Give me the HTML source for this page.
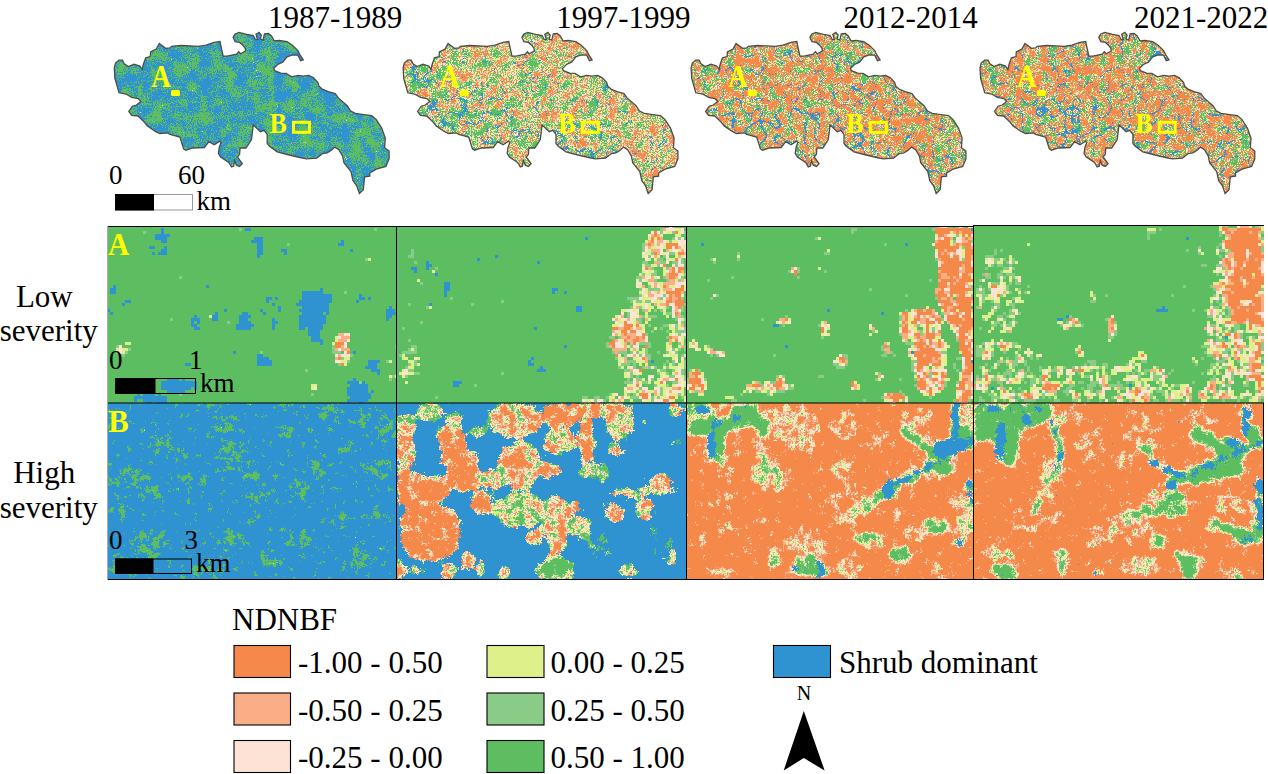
<!DOCTYPE html>
<html><head><meta charset="utf-8"><style>
html,body{margin:0;padding:0;background:#fff;}
body{width:1268px;height:774px;overflow:hidden;position:relative;}
svg{position:absolute;left:0;top:0;}
text{font-family:"Liberation Serif",serif;}
</style></head><body>
<svg width="1268" height="774" viewBox="0 0 1268 774">
<defs>
<filter id="fA1" filterUnits="userSpaceOnUse" x="96" y="214" width="313" height="201" color-interpolation-filters="sRGB">
<feGaussianBlur in="SourceGraphic" stdDeviation="2.2" result="src"/>
<feTurbulence type="fractalNoise" baseFrequency="0.12" numOctaves="3" seed="21" result="t1"/>
<feColorMatrix in="t1" type="matrix" values="1 0 0 0 0 0 1 0 0 0 0 0 0 0 0 0 0 0 0 1" result="t1a"/>
<feTurbulence type="fractalNoise" baseFrequency="0.5" numOctaves="1" seed="28" result="t2"/>
<feColorMatrix in="t2" type="matrix" values="1 0 0 0 0 0 1 0 0 0 0 0 0 0 0 0 0 0 0 1" result="t2a"/>
<feComposite in="t1a" in2="t2a" operator="arithmetic" k1="0" k2="1.2" k3="0.6" k4="-0.4000" result="nz"/>
<feColorMatrix in="nz" type="matrix" values="0.75 0 0 0 0.1250 0 1.7 0 0 -0.3500 0 0 0 0 0 0 0 0 0 1" result="nzs"/>
<feComposite in="src" in2="nzs" operator="arithmetic" k1="0" k2="1" k3="1" k4="-0.5" result="v"/>
<feFlood flood-color="#fff" x="96" y="214" width="1" height="1" result="dot"/><feComposite in="dot" in2="dot" operator="over" x="96" y="214" width="3" height="3" result="tile"/><feTile in="tile" result="grid"/><feComposite in="v" in2="grid" operator="in" result="vs"/><feMorphology in="vs" operator="dilate" radius="1" result="vp"/><feColorMatrix in="vp" type="matrix" values="1 0 0 0 0 1 0 0 0 0 1 0 0 0 0 0 0 0 0 1" result="vr"/>
<feComponentTransfer in="vr" result="c"><feFuncR type="discrete" tableValues="0.9608 0.9608 0.9608 0.9608 0.9608 0.9608 0.9608 0.9608 0.9608 0.9608 0.9608 0.9608 0.9608 0.9608 0.9765 0.9765 0.9765 0.9922 0.9922 0.9922 0.8667 0.8667 0.8667 0.5412 0.5412 0.5412 0.3686 0.3686 0.3686 0.3686 0.3686 0.3686 0.3686 0.3686 0.3686 0.3686 0.3686 0.3686 0.3686 0.3686"/><feFuncG type="discrete" tableValues="0.5373 0.5373 0.5373 0.5373 0.5373 0.5373 0.5373 0.5373 0.5373 0.5373 0.5373 0.5373 0.5373 0.5373 0.6824 0.6824 0.6824 0.8863 0.8863 0.8863 0.9412 0.9412 0.9412 0.7961 0.7961 0.7961 0.7412 0.7412 0.7412 0.7412 0.7412 0.7412 0.7412 0.7412 0.7412 0.7412 0.7412 0.7412 0.7412 0.7412"/><feFuncB type="discrete" tableValues="0.2941 0.2941 0.2941 0.2941 0.2941 0.2941 0.2941 0.2941 0.2941 0.2941 0.2941 0.2941 0.2941 0.2941 0.5294 0.5294 0.5294 0.8392 0.8392 0.8392 0.5412 0.5412 0.5412 0.5333 0.5333 0.5333 0.3804 0.3804 0.3804 0.3804 0.3804 0.3804 0.3804 0.3804 0.3804 0.3804 0.3804 0.3804 0.3804 0.3804"/></feComponentTransfer>
<feColorMatrix in="vp" type="matrix" values="0 0 0 0 0.1843 0 0 0 0 0.5765 0 0 0 0 0.8235 0 1 0 0 0" result="bm"/>
<feComponentTransfer in="bm" result="bl"><feFuncA type="discrete" tableValues="0 0 0 0 0 0 0 0 0 0 0 0 0 0 0 0 0 0 0 0 0 0 1 1 1 1 1 1 1 1 1 1 1 1 1 1 1 1 1 1"/></feComponentTransfer>
<feMerge><feMergeNode in="c"/><feMergeNode in="bl"/></feMerge>
</filter><clipPath id="cA1"><rect x="108" y="226" width="289" height="177"/></clipPath><filter id="fA2" filterUnits="userSpaceOnUse" x="385" y="214" width="313" height="201" color-interpolation-filters="sRGB">
<feGaussianBlur in="SourceGraphic" stdDeviation="2.2" result="src"/>
<feTurbulence type="fractalNoise" baseFrequency="0.12" numOctaves="3" seed="22" result="t1"/>
<feColorMatrix in="t1" type="matrix" values="1 0 0 0 0 0 1 0 0 0 0 0 0 0 0 0 0 0 0 1" result="t1a"/>
<feTurbulence type="fractalNoise" baseFrequency="0.5" numOctaves="1" seed="29" result="t2"/>
<feColorMatrix in="t2" type="matrix" values="1 0 0 0 0 0 1 0 0 0 0 0 0 0 0 0 0 0 0 1" result="t2a"/>
<feComposite in="t1a" in2="t2a" operator="arithmetic" k1="0" k2="1.2" k3="0.6" k4="-0.4000" result="nz"/>
<feColorMatrix in="nz" type="matrix" values="0.75 0 0 0 0.1250 0 1.1 0 0 -0.0500 0 0 0 0 0 0 0 0 0 1" result="nzs"/>
<feComposite in="src" in2="nzs" operator="arithmetic" k1="0" k2="1" k3="1" k4="-0.5" result="v"/>
<feFlood flood-color="#fff" x="385" y="214" width="1" height="1" result="dot"/><feComposite in="dot" in2="dot" operator="over" x="385" y="214" width="3" height="3" result="tile"/><feTile in="tile" result="grid"/><feComposite in="v" in2="grid" operator="in" result="vs"/><feMorphology in="vs" operator="dilate" radius="1" result="vp"/><feColorMatrix in="vp" type="matrix" values="1 0 0 0 0 1 0 0 0 0 1 0 0 0 0 0 0 0 0 1" result="vr"/>
<feComponentTransfer in="vr" result="c"><feFuncR type="discrete" tableValues="0.9608 0.9608 0.9608 0.9608 0.9608 0.9608 0.9608 0.9608 0.9608 0.9608 0.9608 0.9608 0.9608 0.9608 0.9765 0.9765 0.9765 0.9922 0.9922 0.9922 0.8667 0.8667 0.8667 0.5412 0.5412 0.5412 0.3686 0.3686 0.3686 0.3686 0.3686 0.3686 0.3686 0.3686 0.3686 0.3686 0.3686 0.3686 0.3686 0.3686"/><feFuncG type="discrete" tableValues="0.5373 0.5373 0.5373 0.5373 0.5373 0.5373 0.5373 0.5373 0.5373 0.5373 0.5373 0.5373 0.5373 0.5373 0.6824 0.6824 0.6824 0.8863 0.8863 0.8863 0.9412 0.9412 0.9412 0.7961 0.7961 0.7961 0.7412 0.7412 0.7412 0.7412 0.7412 0.7412 0.7412 0.7412 0.7412 0.7412 0.7412 0.7412 0.7412 0.7412"/><feFuncB type="discrete" tableValues="0.2941 0.2941 0.2941 0.2941 0.2941 0.2941 0.2941 0.2941 0.2941 0.2941 0.2941 0.2941 0.2941 0.2941 0.5294 0.5294 0.5294 0.8392 0.8392 0.8392 0.5412 0.5412 0.5412 0.5333 0.5333 0.5333 0.3804 0.3804 0.3804 0.3804 0.3804 0.3804 0.3804 0.3804 0.3804 0.3804 0.3804 0.3804 0.3804 0.3804"/></feComponentTransfer>
<feColorMatrix in="vp" type="matrix" values="0 0 0 0 0.1843 0 0 0 0 0.5765 0 0 0 0 0.8235 0 1 0 0 0" result="bm"/>
<feComponentTransfer in="bm" result="bl"><feFuncA type="discrete" tableValues="0 0 0 0 0 0 0 0 0 0 0 0 0 0 0 0 0 0 0 0 1 1 1 1 1 1 1 1 1 1 1 1 1 1 1 1 1 1 1 1"/></feComponentTransfer>
<feMerge><feMergeNode in="c"/><feMergeNode in="bl"/></feMerge>
</filter><clipPath id="cA2"><rect x="397" y="226" width="289" height="177"/></clipPath><filter id="fA3" filterUnits="userSpaceOnUse" x="675" y="214" width="311" height="201" color-interpolation-filters="sRGB">
<feGaussianBlur in="SourceGraphic" stdDeviation="2.2" result="src"/>
<feTurbulence type="fractalNoise" baseFrequency="0.12" numOctaves="3" seed="23" result="t1"/>
<feColorMatrix in="t1" type="matrix" values="1 0 0 0 0 0 1 0 0 0 0 0 0 0 0 0 0 0 0 1" result="t1a"/>
<feTurbulence type="fractalNoise" baseFrequency="0.5" numOctaves="1" seed="30" result="t2"/>
<feColorMatrix in="t2" type="matrix" values="1 0 0 0 0 0 1 0 0 0 0 0 0 0 0 0 0 0 0 1" result="t2a"/>
<feComposite in="t1a" in2="t2a" operator="arithmetic" k1="0" k2="1.2" k3="0.6" k4="-0.4000" result="nz"/>
<feColorMatrix in="nz" type="matrix" values="0.75 0 0 0 0.1250 0 1.1 0 0 -0.0500 0 0 0 0 0 0 0 0 0 1" result="nzs"/>
<feComposite in="src" in2="nzs" operator="arithmetic" k1="0" k2="1" k3="1" k4="-0.5" result="v"/>
<feFlood flood-color="#fff" x="675" y="214" width="1" height="1" result="dot"/><feComposite in="dot" in2="dot" operator="over" x="675" y="214" width="3" height="3" result="tile"/><feTile in="tile" result="grid"/><feComposite in="v" in2="grid" operator="in" result="vs"/><feMorphology in="vs" operator="dilate" radius="1" result="vp"/><feColorMatrix in="vp" type="matrix" values="1 0 0 0 0 1 0 0 0 0 1 0 0 0 0 0 0 0 0 1" result="vr"/>
<feComponentTransfer in="vr" result="c"><feFuncR type="discrete" tableValues="0.9608 0.9608 0.9608 0.9608 0.9608 0.9608 0.9608 0.9608 0.9608 0.9608 0.9608 0.9608 0.9608 0.9608 0.9765 0.9765 0.9765 0.9922 0.9922 0.9922 0.8667 0.8667 0.8667 0.5412 0.5412 0.5412 0.3686 0.3686 0.3686 0.3686 0.3686 0.3686 0.3686 0.3686 0.3686 0.3686 0.3686 0.3686 0.3686 0.3686"/><feFuncG type="discrete" tableValues="0.5373 0.5373 0.5373 0.5373 0.5373 0.5373 0.5373 0.5373 0.5373 0.5373 0.5373 0.5373 0.5373 0.5373 0.6824 0.6824 0.6824 0.8863 0.8863 0.8863 0.9412 0.9412 0.9412 0.7961 0.7961 0.7961 0.7412 0.7412 0.7412 0.7412 0.7412 0.7412 0.7412 0.7412 0.7412 0.7412 0.7412 0.7412 0.7412 0.7412"/><feFuncB type="discrete" tableValues="0.2941 0.2941 0.2941 0.2941 0.2941 0.2941 0.2941 0.2941 0.2941 0.2941 0.2941 0.2941 0.2941 0.2941 0.5294 0.5294 0.5294 0.8392 0.8392 0.8392 0.5412 0.5412 0.5412 0.5333 0.5333 0.5333 0.3804 0.3804 0.3804 0.3804 0.3804 0.3804 0.3804 0.3804 0.3804 0.3804 0.3804 0.3804 0.3804 0.3804"/></feComponentTransfer>
<feColorMatrix in="vp" type="matrix" values="0 0 0 0 0.1843 0 0 0 0 0.5765 0 0 0 0 0.8235 0 1 0 0 0" result="bm"/>
<feComponentTransfer in="bm" result="bl"><feFuncA type="discrete" tableValues="0 0 0 0 0 0 0 0 0 0 0 0 0 0 0 0 0 0 0 0 1 1 1 1 1 1 1 1 1 1 1 1 1 1 1 1 1 1 1 1"/></feComponentTransfer>
<feMerge><feMergeNode in="c"/><feMergeNode in="bl"/></feMerge>
</filter><clipPath id="cA3"><rect x="687" y="226" width="287" height="177"/></clipPath><filter id="fA4" filterUnits="userSpaceOnUse" x="962" y="214" width="314" height="201" color-interpolation-filters="sRGB">
<feGaussianBlur in="SourceGraphic" stdDeviation="2.2" result="src"/>
<feTurbulence type="fractalNoise" baseFrequency="0.12" numOctaves="3" seed="24" result="t1"/>
<feColorMatrix in="t1" type="matrix" values="1 0 0 0 0 0 1 0 0 0 0 0 0 0 0 0 0 0 0 1" result="t1a"/>
<feTurbulence type="fractalNoise" baseFrequency="0.5" numOctaves="1" seed="31" result="t2"/>
<feColorMatrix in="t2" type="matrix" values="1 0 0 0 0 0 1 0 0 0 0 0 0 0 0 0 0 0 0 1" result="t2a"/>
<feComposite in="t1a" in2="t2a" operator="arithmetic" k1="0" k2="1.2" k3="0.6" k4="-0.4000" result="nz"/>
<feColorMatrix in="nz" type="matrix" values="0.75 0 0 0 0.1250 0 1.1 0 0 -0.0500 0 0 0 0 0 0 0 0 0 1" result="nzs"/>
<feComposite in="src" in2="nzs" operator="arithmetic" k1="0" k2="1" k3="1" k4="-0.5" result="v"/>
<feFlood flood-color="#fff" x="962" y="214" width="1" height="1" result="dot"/><feComposite in="dot" in2="dot" operator="over" x="962" y="214" width="3" height="3" result="tile"/><feTile in="tile" result="grid"/><feComposite in="v" in2="grid" operator="in" result="vs"/><feMorphology in="vs" operator="dilate" radius="1" result="vp"/><feColorMatrix in="vp" type="matrix" values="1 0 0 0 0 1 0 0 0 0 1 0 0 0 0 0 0 0 0 1" result="vr"/>
<feComponentTransfer in="vr" result="c"><feFuncR type="discrete" tableValues="0.9608 0.9608 0.9608 0.9608 0.9608 0.9608 0.9608 0.9608 0.9608 0.9608 0.9608 0.9608 0.9608 0.9608 0.9765 0.9765 0.9765 0.9922 0.9922 0.9922 0.8667 0.8667 0.8667 0.5412 0.5412 0.5412 0.3686 0.3686 0.3686 0.3686 0.3686 0.3686 0.3686 0.3686 0.3686 0.3686 0.3686 0.3686 0.3686 0.3686"/><feFuncG type="discrete" tableValues="0.5373 0.5373 0.5373 0.5373 0.5373 0.5373 0.5373 0.5373 0.5373 0.5373 0.5373 0.5373 0.5373 0.5373 0.6824 0.6824 0.6824 0.8863 0.8863 0.8863 0.9412 0.9412 0.9412 0.7961 0.7961 0.7961 0.7412 0.7412 0.7412 0.7412 0.7412 0.7412 0.7412 0.7412 0.7412 0.7412 0.7412 0.7412 0.7412 0.7412"/><feFuncB type="discrete" tableValues="0.2941 0.2941 0.2941 0.2941 0.2941 0.2941 0.2941 0.2941 0.2941 0.2941 0.2941 0.2941 0.2941 0.2941 0.5294 0.5294 0.5294 0.8392 0.8392 0.8392 0.5412 0.5412 0.5412 0.5333 0.5333 0.5333 0.3804 0.3804 0.3804 0.3804 0.3804 0.3804 0.3804 0.3804 0.3804 0.3804 0.3804 0.3804 0.3804 0.3804"/></feComponentTransfer>
<feColorMatrix in="vp" type="matrix" values="0 0 0 0 0.1843 0 0 0 0 0.5765 0 0 0 0 0.8235 0 1 0 0 0" result="bm"/>
<feComponentTransfer in="bm" result="bl"><feFuncA type="discrete" tableValues="0 0 0 0 0 0 0 0 0 0 0 0 0 0 0 0 0 0 0 0 1 1 1 1 1 1 1 1 1 1 1 1 1 1 1 1 1 1 1 1"/></feComponentTransfer>
<feMerge><feMergeNode in="c"/><feMergeNode in="bl"/></feMerge>
</filter><clipPath id="cA4"><rect x="974" y="226" width="290" height="177"/></clipPath><filter id="fB1" filterUnits="userSpaceOnUse" x="96" y="391" width="313" height="201" color-interpolation-filters="sRGB">
<feGaussianBlur in="SourceGraphic" stdDeviation="3" result="src"/>
<feTurbulence type="fractalNoise" baseFrequency="0.15" numOctaves="3" seed="31" result="t1"/>
<feColorMatrix in="t1" type="matrix" values="1 0 0 0 0 0 1 0 0 0 0 0 0 0 0 0 0 0 0 1" result="t1a"/>
<feTurbulence type="fractalNoise" baseFrequency="0.6" numOctaves="1" seed="38" result="t2"/>
<feColorMatrix in="t2" type="matrix" values="1 0 0 0 0 0 1 0 0 0 0 0 0 0 0 0 0 0 0 1" result="t2a"/>
<feComposite in="t1a" in2="t2a" operator="arithmetic" k1="0" k2="1.0" k3="0.6" k4="-0.3000" result="nz"/>
<feColorMatrix in="nz" type="matrix" values="0.8 0 0 0 0.1000 0 1.1 0 0 -0.0500 0 0 0 0 0 0 0 0 0 1" result="nzs"/>
<feComposite in="src" in2="nzs" operator="arithmetic" k1="0" k2="1" k3="1" k4="-0.5" result="v"/>
<feColorMatrix in="v" type="matrix" values="1 0 0 0 0 1 0 0 0 0 1 0 0 0 0 0 0 0 0 1" result="vr"/>
<feComponentTransfer in="vr" result="c"><feFuncR type="discrete" tableValues="0.9608 0.9608 0.9608 0.9608 0.9608 0.9608 0.9608 0.9608 0.9608 0.9608 0.9608 0.9608 0.9608 0.9608 0.9765 0.9765 0.9765 0.9922 0.9922 0.9922 0.8667 0.8667 0.8667 0.5412 0.5412 0.5412 0.3686 0.3686 0.3686 0.3686 0.3686 0.3686 0.3686 0.3686 0.3686 0.3686 0.3686 0.3686 0.3686 0.3686"/><feFuncG type="discrete" tableValues="0.5373 0.5373 0.5373 0.5373 0.5373 0.5373 0.5373 0.5373 0.5373 0.5373 0.5373 0.5373 0.5373 0.5373 0.6824 0.6824 0.6824 0.8863 0.8863 0.8863 0.9412 0.9412 0.9412 0.7961 0.7961 0.7961 0.7412 0.7412 0.7412 0.7412 0.7412 0.7412 0.7412 0.7412 0.7412 0.7412 0.7412 0.7412 0.7412 0.7412"/><feFuncB type="discrete" tableValues="0.2941 0.2941 0.2941 0.2941 0.2941 0.2941 0.2941 0.2941 0.2941 0.2941 0.2941 0.2941 0.2941 0.2941 0.5294 0.5294 0.5294 0.8392 0.8392 0.8392 0.5412 0.5412 0.5412 0.5333 0.5333 0.5333 0.3804 0.3804 0.3804 0.3804 0.3804 0.3804 0.3804 0.3804 0.3804 0.3804 0.3804 0.3804 0.3804 0.3804"/></feComponentTransfer>
<feColorMatrix in="v" type="matrix" values="0 0 0 0 0.1843 0 0 0 0 0.5765 0 0 0 0 0.8235 0 1 0 0 0" result="bm"/>
<feComponentTransfer in="bm" result="bl"><feFuncA type="discrete" tableValues="0 0 0 0 0 0 0 0 0 0 0 0 0 0 0 0 0 0 0 0 1 1 1 1 1 1 1 1 1 1 1 1 1 1 1 1 1 1 1 1"/></feComponentTransfer>
<feMerge><feMergeNode in="c"/><feMergeNode in="bl"/></feMerge>
</filter><clipPath id="cB1"><rect x="108" y="403" width="289" height="177"/></clipPath><filter id="fB2" filterUnits="userSpaceOnUse" x="385" y="391" width="313" height="201" color-interpolation-filters="sRGB">
<feGaussianBlur in="SourceGraphic" stdDeviation="3" result="src"/>
<feTurbulence type="fractalNoise" baseFrequency="0.12" numOctaves="3" seed="32" result="t1"/>
<feColorMatrix in="t1" type="matrix" values="1 0 0 0 0 0 1 0 0 0 0 0 0 0 0 0 0 0 0 1" result="t1a"/>
<feTurbulence type="fractalNoise" baseFrequency="0.6" numOctaves="1" seed="39" result="t2"/>
<feColorMatrix in="t2" type="matrix" values="1 0 0 0 0 0 1 0 0 0 0 0 0 0 0 0 0 0 0 1" result="t2a"/>
<feComposite in="t1a" in2="t2a" operator="arithmetic" k1="0" k2="1.0" k3="0.6" k4="-0.3000" result="nz"/>
<feColorMatrix in="nz" type="matrix" values="0.9 0 0 0 0.0500 0 1.1 0 0 -0.0500 0 0 0 0 0 0 0 0 0 1" result="nzs"/>
<feComposite in="src" in2="nzs" operator="arithmetic" k1="0" k2="1" k3="1" k4="-0.5" result="v"/>
<feColorMatrix in="v" type="matrix" values="1 0 0 0 0 1 0 0 0 0 1 0 0 0 0 0 0 0 0 1" result="vr"/>
<feComponentTransfer in="vr" result="c"><feFuncR type="discrete" tableValues="0.9608 0.9608 0.9608 0.9608 0.9608 0.9608 0.9608 0.9608 0.9608 0.9608 0.9608 0.9608 0.9608 0.9608 0.9765 0.9765 0.9765 0.9922 0.9922 0.9922 0.8667 0.8667 0.8667 0.5412 0.5412 0.5412 0.3686 0.3686 0.3686 0.3686 0.3686 0.3686 0.3686 0.3686 0.3686 0.3686 0.3686 0.3686 0.3686 0.3686"/><feFuncG type="discrete" tableValues="0.5373 0.5373 0.5373 0.5373 0.5373 0.5373 0.5373 0.5373 0.5373 0.5373 0.5373 0.5373 0.5373 0.5373 0.6824 0.6824 0.6824 0.8863 0.8863 0.8863 0.9412 0.9412 0.9412 0.7961 0.7961 0.7961 0.7412 0.7412 0.7412 0.7412 0.7412 0.7412 0.7412 0.7412 0.7412 0.7412 0.7412 0.7412 0.7412 0.7412"/><feFuncB type="discrete" tableValues="0.2941 0.2941 0.2941 0.2941 0.2941 0.2941 0.2941 0.2941 0.2941 0.2941 0.2941 0.2941 0.2941 0.2941 0.5294 0.5294 0.5294 0.8392 0.8392 0.8392 0.5412 0.5412 0.5412 0.5333 0.5333 0.5333 0.3804 0.3804 0.3804 0.3804 0.3804 0.3804 0.3804 0.3804 0.3804 0.3804 0.3804 0.3804 0.3804 0.3804"/></feComponentTransfer>
<feColorMatrix in="v" type="matrix" values="0 0 0 0 0.1843 0 0 0 0 0.5765 0 0 0 0 0.8235 0 1 0 0 0" result="bm"/>
<feComponentTransfer in="bm" result="bl"><feFuncA type="discrete" tableValues="0 0 0 0 0 0 0 0 0 0 0 0 0 0 0 0 0 0 0 0 1 1 1 1 1 1 1 1 1 1 1 1 1 1 1 1 1 1 1 1"/></feComponentTransfer>
<feMerge><feMergeNode in="c"/><feMergeNode in="bl"/></feMerge>
</filter><clipPath id="cB2"><rect x="397" y="403" width="289" height="177"/></clipPath><filter id="fB3" filterUnits="userSpaceOnUse" x="675" y="391" width="311" height="201" color-interpolation-filters="sRGB">
<feGaussianBlur in="SourceGraphic" stdDeviation="3" result="src"/>
<feTurbulence type="fractalNoise" baseFrequency="0.12" numOctaves="3" seed="33" result="t1"/>
<feColorMatrix in="t1" type="matrix" values="1 0 0 0 0 0 1 0 0 0 0 0 0 0 0 0 0 0 0 1" result="t1a"/>
<feTurbulence type="fractalNoise" baseFrequency="0.6" numOctaves="1" seed="40" result="t2"/>
<feColorMatrix in="t2" type="matrix" values="1 0 0 0 0 0 1 0 0 0 0 0 0 0 0 0 0 0 0 1" result="t2a"/>
<feComposite in="t1a" in2="t2a" operator="arithmetic" k1="0" k2="1.0" k3="0.6" k4="-0.3000" result="nz"/>
<feColorMatrix in="nz" type="matrix" values="0.8 0 0 0 0.1000 0 1.1 0 0 -0.0500 0 0 0 0 0 0 0 0 0 1" result="nzs"/>
<feComposite in="src" in2="nzs" operator="arithmetic" k1="0" k2="1" k3="1" k4="-0.5" result="v"/>
<feColorMatrix in="v" type="matrix" values="1 0 0 0 0 1 0 0 0 0 1 0 0 0 0 0 0 0 0 1" result="vr"/>
<feComponentTransfer in="vr" result="c"><feFuncR type="discrete" tableValues="0.9608 0.9608 0.9608 0.9608 0.9608 0.9608 0.9608 0.9608 0.9608 0.9608 0.9608 0.9608 0.9608 0.9608 0.9765 0.9765 0.9765 0.9922 0.9922 0.9922 0.8667 0.8667 0.8667 0.5412 0.5412 0.5412 0.3686 0.3686 0.3686 0.3686 0.3686 0.3686 0.3686 0.3686 0.3686 0.3686 0.3686 0.3686 0.3686 0.3686"/><feFuncG type="discrete" tableValues="0.5373 0.5373 0.5373 0.5373 0.5373 0.5373 0.5373 0.5373 0.5373 0.5373 0.5373 0.5373 0.5373 0.5373 0.6824 0.6824 0.6824 0.8863 0.8863 0.8863 0.9412 0.9412 0.9412 0.7961 0.7961 0.7961 0.7412 0.7412 0.7412 0.7412 0.7412 0.7412 0.7412 0.7412 0.7412 0.7412 0.7412 0.7412 0.7412 0.7412"/><feFuncB type="discrete" tableValues="0.2941 0.2941 0.2941 0.2941 0.2941 0.2941 0.2941 0.2941 0.2941 0.2941 0.2941 0.2941 0.2941 0.2941 0.5294 0.5294 0.5294 0.8392 0.8392 0.8392 0.5412 0.5412 0.5412 0.5333 0.5333 0.5333 0.3804 0.3804 0.3804 0.3804 0.3804 0.3804 0.3804 0.3804 0.3804 0.3804 0.3804 0.3804 0.3804 0.3804"/></feComponentTransfer>
<feColorMatrix in="v" type="matrix" values="0 0 0 0 0.1843 0 0 0 0 0.5765 0 0 0 0 0.8235 0 1 0 0 0" result="bm"/>
<feComponentTransfer in="bm" result="bl"><feFuncA type="discrete" tableValues="0 0 0 0 0 0 0 0 0 0 0 0 0 0 0 0 0 0 0 0 1 1 1 1 1 1 1 1 1 1 1 1 1 1 1 1 1 1 1 1"/></feComponentTransfer>
<feMerge><feMergeNode in="c"/><feMergeNode in="bl"/></feMerge>
</filter><clipPath id="cB3"><rect x="687" y="403" width="287" height="177"/></clipPath><filter id="fB4" filterUnits="userSpaceOnUse" x="962" y="391" width="314" height="201" color-interpolation-filters="sRGB">
<feGaussianBlur in="SourceGraphic" stdDeviation="3" result="src"/>
<feTurbulence type="fractalNoise" baseFrequency="0.12" numOctaves="3" seed="34" result="t1"/>
<feColorMatrix in="t1" type="matrix" values="1 0 0 0 0 0 1 0 0 0 0 0 0 0 0 0 0 0 0 1" result="t1a"/>
<feTurbulence type="fractalNoise" baseFrequency="0.6" numOctaves="1" seed="41" result="t2"/>
<feColorMatrix in="t2" type="matrix" values="1 0 0 0 0 0 1 0 0 0 0 0 0 0 0 0 0 0 0 1" result="t2a"/>
<feComposite in="t1a" in2="t2a" operator="arithmetic" k1="0" k2="1.0" k3="0.6" k4="-0.3000" result="nz"/>
<feColorMatrix in="nz" type="matrix" values="0.8 0 0 0 0.1000 0 1.1 0 0 -0.0500 0 0 0 0 0 0 0 0 0 1" result="nzs"/>
<feComposite in="src" in2="nzs" operator="arithmetic" k1="0" k2="1" k3="1" k4="-0.5" result="v"/>
<feColorMatrix in="v" type="matrix" values="1 0 0 0 0 1 0 0 0 0 1 0 0 0 0 0 0 0 0 1" result="vr"/>
<feComponentTransfer in="vr" result="c"><feFuncR type="discrete" tableValues="0.9608 0.9608 0.9608 0.9608 0.9608 0.9608 0.9608 0.9608 0.9608 0.9608 0.9608 0.9608 0.9608 0.9608 0.9765 0.9765 0.9765 0.9922 0.9922 0.9922 0.8667 0.8667 0.8667 0.5412 0.5412 0.5412 0.3686 0.3686 0.3686 0.3686 0.3686 0.3686 0.3686 0.3686 0.3686 0.3686 0.3686 0.3686 0.3686 0.3686"/><feFuncG type="discrete" tableValues="0.5373 0.5373 0.5373 0.5373 0.5373 0.5373 0.5373 0.5373 0.5373 0.5373 0.5373 0.5373 0.5373 0.5373 0.6824 0.6824 0.6824 0.8863 0.8863 0.8863 0.9412 0.9412 0.9412 0.7961 0.7961 0.7961 0.7412 0.7412 0.7412 0.7412 0.7412 0.7412 0.7412 0.7412 0.7412 0.7412 0.7412 0.7412 0.7412 0.7412"/><feFuncB type="discrete" tableValues="0.2941 0.2941 0.2941 0.2941 0.2941 0.2941 0.2941 0.2941 0.2941 0.2941 0.2941 0.2941 0.2941 0.2941 0.5294 0.5294 0.5294 0.8392 0.8392 0.8392 0.5412 0.5412 0.5412 0.5333 0.5333 0.5333 0.3804 0.3804 0.3804 0.3804 0.3804 0.3804 0.3804 0.3804 0.3804 0.3804 0.3804 0.3804 0.3804 0.3804"/></feComponentTransfer>
<feColorMatrix in="v" type="matrix" values="0 0 0 0 0.1843 0 0 0 0 0.5765 0 0 0 0 0.8235 0 1 0 0 0" result="bm"/>
<feComponentTransfer in="bm" result="bl"><feFuncA type="discrete" tableValues="0 0 0 0 0 0 0 0 0 0 0 0 0 0 0 0 0 0 0 0 1 1 1 1 1 1 1 1 1 1 1 1 1 1 1 1 1 1 1 1"/></feComponentTransfer>
<feMerge><feMergeNode in="c"/><feMergeNode in="bl"/></feMerge>
</filter><clipPath id="cB4"><rect x="974" y="403" width="290" height="177"/></clipPath><clipPath id="mc"><path d="M114.3 67.8 L115.5 63.1 L119.0 60.2 L122.4 60.2 L124.2 63.7 L128.3 66.6 L134.1 64.3 L139.9 66.0 L142.2 69.5 L143.4 64.3 L145.7 57.9 L150.3 56.5 L150.6 51.8 L156.2 49.1 L159.3 43.5 L165.6 48.3 L170.0 47.9 L171.5 46.3 L181.0 45.5 L198.4 46.3 L206.2 45.1 L214.1 42.4 L220.0 41.6 L220.8 45.5 L222.0 51.0 L223.2 56.2 L228.3 55.8 L236.6 54.1 L238.6 51.7 L240.5 53.7 L245.5 51.0 L245.2 48.3 L242.8 45.2 L239.7 42.4 L235.1 41.7 L233.1 37.4 L235.1 33.9 L239.0 32.4 L246.7 34.3 L253.3 35.5 L255.6 39.7 L257.6 39.7 L256.0 34.3 L259.1 32.4 L261.4 35.1 L260.3 39.0 L263.0 40.1 L264.5 33.9 L268.4 33.5 L271.5 35.9 L274.2 40.9 L279.3 40.5 L287.0 41.7 L292.4 45.2 L297.9 50.6 L300.2 55.2 L303.3 59.9 L300.6 60.7 L297.9 55.2 L292.4 54.8 L287.0 56.8 L282.8 62.2 L277.7 64.5 L273.8 68.4 L274.6 70.7 L280.8 73.1 L286.2 73.4 L291.7 76.9 L297.9 75.4 L303.3 76.2 L308.9 75.4 L313.5 77.8 L317.8 82.4 L319.0 86.3 L322.8 89.4 L328.3 91.7 L335.2 93.6 L338.3 97.9 L347.2 105.7 L350.7 111.1 L355.4 113.4 L363.9 114.6 L371.7 115.7 L376.3 119.6 L381.7 128.1 L385.3 138.1 L384.6 147.8 L389.1 151.0 L389.1 158.8 L385.9 166.5 L376.2 169.1 L369.8 173.0 L369.8 176.2 L364.6 176.8 L363.3 189.8 L359.4 193.6 L356.8 185.9 L353.0 180.7 L351.0 171.7 L343.9 162.6 L342.6 156.2 L338.8 149.7 L334.9 147.1 L331.0 150.4 L327.1 152.9 L322.6 153.6 L316.8 158.1 L306.5 158.8 L300.0 157.5 L289.3 155.0 L277.2 151.8 L269.5 146.2 L267.2 143.5 L267.2 134.4 L264.0 130.3 L260.4 131.7 L253.2 124.9 L252.3 133.5 L251.4 139.8 L246.0 148.0 L240.1 148.0 L239.6 154.3 L237.4 157.0 L242.3 163.8 L239.6 166.5 L236.5 165.2 L234.6 160.6 L233.7 166.1 L231.5 167.0 L228.8 162.4 L220.6 157.0 L218.4 153.4 L219.3 147.1 L221.1 142.5 L219.7 141.2 L214.3 144.8 L208.9 141.6 L204.4 147.5 L192.6 148.0 L185.8 150.2 L183.6 148.9 L179.9 137.1 L170.0 134.4 L167.8 132.9 L159.7 133.5 L155.0 131.2 L147.4 125.9 L144.5 122.4 L138.1 116.0 L131.7 115.5 L128.8 111.4 L132.3 106.2 L136.4 105.0 L141.0 101.5 L138.1 98.6 L131.7 97.4 L125.9 94.0 L119.0 92.8 L117.2 86.4 L114.9 78.3Z"/></clipPath><filter id="fm0" filterUnits="userSpaceOnUse" x="100" y="25" width="300" height="175" color-interpolation-filters="sRGB">
<feGaussianBlur in="SourceGraphic" stdDeviation="2" result="src"/>
<feTurbulence type="fractalNoise" baseFrequency="0.08" numOctaves="3" seed="41" result="t1"/>
<feColorMatrix in="t1" type="matrix" values="1 0 0 0 0 0 1 0 0 0 0 0 0 0 0 0 0 0 0 1" result="t1a"/>
<feTurbulence type="fractalNoise" baseFrequency="0.8" numOctaves="1" seed="48" result="t2"/>
<feColorMatrix in="t2" type="matrix" values="1 0 0 0 0 0 1 0 0 0 0 0 0 0 0 0 0 0 0 1" result="t2a"/>
<feComposite in="t1a" in2="t2a" operator="arithmetic" k1="0" k2="0.8" k3="1.0" k4="-0.4000" result="nz"/>
<feColorMatrix in="nz" type="matrix" values="0.8 0 0 0 0.1000 0 1.2 0 0 -0.1000 0 0 0 0 0 0 0 0 0 1" result="nzs"/>
<feTurbulence type="turbulence" baseFrequency="0.07" numOctaves="1" seed="54" result="tb"/>
<feColorMatrix in="tb" type="matrix" values="0 0 0 0 0.5 0 0 0 0 0.5000 0 0 0 0 0 0 0 0 0 1" result="tbn"/>
<feComposite in="nzs" in2="tbn" operator="arithmetic" k1="0" k2="1" k3="1" k4="-0.5" result="nzb"/>
<feComposite in="src" in2="nzb" operator="arithmetic" k1="0" k2="1" k3="1" k4="-0.5" result="v"/>
<feColorMatrix in="v" type="matrix" values="1 0 0 0 0 1 0 0 0 0 1 0 0 0 0 0 0 0 0 1" result="vr"/>
<feComponentTransfer in="vr" result="c"><feFuncR type="discrete" tableValues="0.9608 0.9608 0.9608 0.9608 0.9608 0.9608 0.9608 0.9608 0.9608 0.9608 0.9608 0.9608 0.9608 0.9608 0.9765 0.9765 0.9765 0.9922 0.9922 0.9922 0.8667 0.8667 0.8667 0.5412 0.5412 0.5412 0.3686 0.3686 0.3686 0.3686 0.3686 0.3686 0.3686 0.3686 0.3686 0.3686 0.3686 0.3686 0.3686 0.3686"/><feFuncG type="discrete" tableValues="0.5373 0.5373 0.5373 0.5373 0.5373 0.5373 0.5373 0.5373 0.5373 0.5373 0.5373 0.5373 0.5373 0.5373 0.6824 0.6824 0.6824 0.8863 0.8863 0.8863 0.9412 0.9412 0.9412 0.7961 0.7961 0.7961 0.7412 0.7412 0.7412 0.7412 0.7412 0.7412 0.7412 0.7412 0.7412 0.7412 0.7412 0.7412 0.7412 0.7412"/><feFuncB type="discrete" tableValues="0.2941 0.2941 0.2941 0.2941 0.2941 0.2941 0.2941 0.2941 0.2941 0.2941 0.2941 0.2941 0.2941 0.2941 0.5294 0.5294 0.5294 0.8392 0.8392 0.8392 0.5412 0.5412 0.5412 0.5333 0.5333 0.5333 0.3804 0.3804 0.3804 0.3804 0.3804 0.3804 0.3804 0.3804 0.3804 0.3804 0.3804 0.3804 0.3804 0.3804"/></feComponentTransfer>
<feColorMatrix in="v" type="matrix" values="0 0 0 0 0.1843 0 0 0 0 0.5765 0 0 0 0 0.8235 0 1 0 0 0" result="bm"/>
<feComponentTransfer in="bm" result="bl"><feFuncA type="discrete" tableValues="0 0 0 0 0 0 0 0 0 0 0 0 0 0 0 0 0 0 0 0 1 1 1 1 1 1 1 1 1 1 1 1 1 1 1 1 1 1 1 1"/></feComponentTransfer>
<feMerge><feMergeNode in="c"/><feMergeNode in="bl"/></feMerge><feGaussianBlur stdDeviation="0.6"/>
</filter><filter id="fm1" filterUnits="userSpaceOnUse" x="100" y="25" width="300" height="175" color-interpolation-filters="sRGB">
<feGaussianBlur in="SourceGraphic" stdDeviation="2" result="src"/>
<feTurbulence type="fractalNoise" baseFrequency="0.1" numOctaves="3" seed="42" result="t1"/>
<feColorMatrix in="t1" type="matrix" values="1 0 0 0 0 0 1 0 0 0 0 0 0 0 0 0 0 0 0 1" result="t1a"/>
<feTurbulence type="fractalNoise" baseFrequency="0.8" numOctaves="1" seed="49" result="t2"/>
<feColorMatrix in="t2" type="matrix" values="1 0 0 0 0 0 1 0 0 0 0 0 0 0 0 0 0 0 0 1" result="t2a"/>
<feComposite in="t1a" in2="t2a" operator="arithmetic" k1="0" k2="0.9" k3="1.0" k4="-0.4500" result="nz"/>
<feColorMatrix in="nz" type="matrix" values="1.2 0 0 0 -0.1000 0 1.0 0 0 0.0000 0 0 0 0 0 0 0 0 0 1" result="nzs"/>
<feTurbulence type="turbulence" baseFrequency="0.08" numOctaves="1" seed="55" result="tb"/>
<feColorMatrix in="tb" type="matrix" values="0 0 0 0 0.5 -5 0 0 0 0.6500 0 0 0 0 0 0 0 0 0 1" result="tbn"/>
<feComposite in="nzs" in2="tbn" operator="arithmetic" k1="0" k2="1" k3="1" k4="-0.5" result="nzb"/>
<feComposite in="src" in2="nzb" operator="arithmetic" k1="0" k2="1" k3="1" k4="-0.5" result="v"/>
<feColorMatrix in="v" type="matrix" values="1 0 0 0 0 1 0 0 0 0 1 0 0 0 0 0 0 0 0 1" result="vr"/>
<feComponentTransfer in="vr" result="c"><feFuncR type="discrete" tableValues="0.9608 0.9608 0.9608 0.9608 0.9608 0.9608 0.9608 0.9608 0.9608 0.9608 0.9608 0.9608 0.9608 0.9608 0.9765 0.9765 0.9765 0.9922 0.9922 0.9922 0.8667 0.8667 0.8667 0.5412 0.5412 0.5412 0.3686 0.3686 0.3686 0.3686 0.3686 0.3686 0.3686 0.3686 0.3686 0.3686 0.3686 0.3686 0.3686 0.3686"/><feFuncG type="discrete" tableValues="0.5373 0.5373 0.5373 0.5373 0.5373 0.5373 0.5373 0.5373 0.5373 0.5373 0.5373 0.5373 0.5373 0.5373 0.6824 0.6824 0.6824 0.8863 0.8863 0.8863 0.9412 0.9412 0.9412 0.7961 0.7961 0.7961 0.7412 0.7412 0.7412 0.7412 0.7412 0.7412 0.7412 0.7412 0.7412 0.7412 0.7412 0.7412 0.7412 0.7412"/><feFuncB type="discrete" tableValues="0.2941 0.2941 0.2941 0.2941 0.2941 0.2941 0.2941 0.2941 0.2941 0.2941 0.2941 0.2941 0.2941 0.2941 0.5294 0.5294 0.5294 0.8392 0.8392 0.8392 0.5412 0.5412 0.5412 0.5333 0.5333 0.5333 0.3804 0.3804 0.3804 0.3804 0.3804 0.3804 0.3804 0.3804 0.3804 0.3804 0.3804 0.3804 0.3804 0.3804"/></feComponentTransfer>
<feColorMatrix in="v" type="matrix" values="0 0 0 0 0.1843 0 0 0 0 0.5765 0 0 0 0 0.8235 0 1 0 0 0" result="bm"/>
<feComponentTransfer in="bm" result="bl"><feFuncA type="discrete" tableValues="0 0 0 0 0 0 0 0 0 0 0 0 0 0 0 0 0 0 0 0 1 1 1 1 1 1 1 1 1 1 1 1 1 1 1 1 1 1 1 1"/></feComponentTransfer>
<feMerge><feMergeNode in="c"/><feMergeNode in="bl"/></feMerge><feGaussianBlur stdDeviation="0.6"/>
</filter><filter id="fm2" filterUnits="userSpaceOnUse" x="100" y="25" width="300" height="175" color-interpolation-filters="sRGB">
<feGaussianBlur in="SourceGraphic" stdDeviation="3" result="src"/>
<feTurbulence type="fractalNoise" baseFrequency="0.12" numOctaves="3" seed="43" result="t1"/>
<feColorMatrix in="t1" type="matrix" values="1 0 0 0 0 0 1 0 0 0 0 0 0 0 0 0 0 0 0 1" result="t1a"/>
<feTurbulence type="fractalNoise" baseFrequency="0.9" numOctaves="1" seed="50" result="t2"/>
<feColorMatrix in="t2" type="matrix" values="1 0 0 0 0 0 1 0 0 0 0 0 0 0 0 0 0 0 0 1" result="t2a"/>
<feComposite in="t1a" in2="t2a" operator="arithmetic" k1="0" k2="0.9" k3="1.0" k4="-0.4500" result="nz"/>
<feColorMatrix in="nz" type="matrix" values="1.7 0 0 0 -0.3500 0 0.9 0 0 0.0500 0 0 0 0 0 0 0 0 0 1" result="nzs"/>
<feTurbulence type="turbulence" baseFrequency="0.07" numOctaves="1" seed="56" result="tb"/>
<feColorMatrix in="tb" type="matrix" values="0 0 0 0 0.5 -6 0 0 0 0.7280 0 0 0 0 0 0 0 0 0 1" result="tbn"/>
<feComposite in="nzs" in2="tbn" operator="arithmetic" k1="0" k2="1" k3="1" k4="-0.5" result="nzb"/>
<feComposite in="src" in2="nzb" operator="arithmetic" k1="0" k2="1" k3="1" k4="-0.5" result="v"/>
<feColorMatrix in="v" type="matrix" values="1 0 0 0 0 1 0 0 0 0 1 0 0 0 0 0 0 0 0 1" result="vr"/>
<feComponentTransfer in="vr" result="c"><feFuncR type="discrete" tableValues="0.9608 0.9608 0.9608 0.9608 0.9608 0.9608 0.9608 0.9608 0.9608 0.9608 0.9608 0.9608 0.9608 0.9608 0.9765 0.9765 0.9765 0.9922 0.9922 0.9922 0.8667 0.8667 0.8667 0.5412 0.5412 0.5412 0.3686 0.3686 0.3686 0.3686 0.3686 0.3686 0.3686 0.3686 0.3686 0.3686 0.3686 0.3686 0.3686 0.3686"/><feFuncG type="discrete" tableValues="0.5373 0.5373 0.5373 0.5373 0.5373 0.5373 0.5373 0.5373 0.5373 0.5373 0.5373 0.5373 0.5373 0.5373 0.6824 0.6824 0.6824 0.8863 0.8863 0.8863 0.9412 0.9412 0.9412 0.7961 0.7961 0.7961 0.7412 0.7412 0.7412 0.7412 0.7412 0.7412 0.7412 0.7412 0.7412 0.7412 0.7412 0.7412 0.7412 0.7412"/><feFuncB type="discrete" tableValues="0.2941 0.2941 0.2941 0.2941 0.2941 0.2941 0.2941 0.2941 0.2941 0.2941 0.2941 0.2941 0.2941 0.2941 0.5294 0.5294 0.5294 0.8392 0.8392 0.8392 0.5412 0.5412 0.5412 0.5333 0.5333 0.5333 0.3804 0.3804 0.3804 0.3804 0.3804 0.3804 0.3804 0.3804 0.3804 0.3804 0.3804 0.3804 0.3804 0.3804"/></feComponentTransfer>
<feColorMatrix in="v" type="matrix" values="0 0 0 0 0.1843 0 0 0 0 0.5765 0 0 0 0 0.8235 0 1 0 0 0" result="bm"/>
<feComponentTransfer in="bm" result="bl"><feFuncA type="discrete" tableValues="0 0 0 0 0 0 0 0 0 0 0 0 0 0 0 0 0 0 0 0 1 1 1 1 1 1 1 1 1 1 1 1 1 1 1 1 1 1 1 1"/></feComponentTransfer>
<feMerge><feMergeNode in="c"/><feMergeNode in="bl"/></feMerge><feGaussianBlur stdDeviation="0.6"/>
</filter><filter id="fm3" filterUnits="userSpaceOnUse" x="100" y="25" width="300" height="175" color-interpolation-filters="sRGB">
<feGaussianBlur in="SourceGraphic" stdDeviation="3" result="src"/>
<feTurbulence type="fractalNoise" baseFrequency="0.12" numOctaves="3" seed="44" result="t1"/>
<feColorMatrix in="t1" type="matrix" values="1 0 0 0 0 0 1 0 0 0 0 0 0 0 0 0 0 0 0 1" result="t1a"/>
<feTurbulence type="fractalNoise" baseFrequency="0.9" numOctaves="1" seed="51" result="t2"/>
<feColorMatrix in="t2" type="matrix" values="1 0 0 0 0 0 1 0 0 0 0 0 0 0 0 0 0 0 0 1" result="t2a"/>
<feComposite in="t1a" in2="t2a" operator="arithmetic" k1="0" k2="0.9" k3="1.0" k4="-0.4500" result="nz"/>
<feColorMatrix in="nz" type="matrix" values="1.7 0 0 0 -0.3500 0 0.9 0 0 0.0500 0 0 0 0 0 0 0 0 0 1" result="nzs"/>
<feTurbulence type="turbulence" baseFrequency="0.07" numOctaves="1" seed="57" result="tb"/>
<feColorMatrix in="tb" type="matrix" values="0 0 0 0 0.5 -6 0 0 0 0.7280 0 0 0 0 0 0 0 0 0 1" result="tbn"/>
<feComposite in="nzs" in2="tbn" operator="arithmetic" k1="0" k2="1" k3="1" k4="-0.5" result="nzb"/>
<feComposite in="src" in2="nzb" operator="arithmetic" k1="0" k2="1" k3="1" k4="-0.5" result="v"/>
<feColorMatrix in="v" type="matrix" values="1 0 0 0 0 1 0 0 0 0 1 0 0 0 0 0 0 0 0 1" result="vr"/>
<feComponentTransfer in="vr" result="c"><feFuncR type="discrete" tableValues="0.9608 0.9608 0.9608 0.9608 0.9608 0.9608 0.9608 0.9608 0.9608 0.9608 0.9608 0.9608 0.9608 0.9608 0.9765 0.9765 0.9765 0.9922 0.9922 0.9922 0.8667 0.8667 0.8667 0.5412 0.5412 0.5412 0.3686 0.3686 0.3686 0.3686 0.3686 0.3686 0.3686 0.3686 0.3686 0.3686 0.3686 0.3686 0.3686 0.3686"/><feFuncG type="discrete" tableValues="0.5373 0.5373 0.5373 0.5373 0.5373 0.5373 0.5373 0.5373 0.5373 0.5373 0.5373 0.5373 0.5373 0.5373 0.6824 0.6824 0.6824 0.8863 0.8863 0.8863 0.9412 0.9412 0.9412 0.7961 0.7961 0.7961 0.7412 0.7412 0.7412 0.7412 0.7412 0.7412 0.7412 0.7412 0.7412 0.7412 0.7412 0.7412 0.7412 0.7412"/><feFuncB type="discrete" tableValues="0.2941 0.2941 0.2941 0.2941 0.2941 0.2941 0.2941 0.2941 0.2941 0.2941 0.2941 0.2941 0.2941 0.2941 0.5294 0.5294 0.5294 0.8392 0.8392 0.8392 0.5412 0.5412 0.5412 0.5333 0.5333 0.5333 0.3804 0.3804 0.3804 0.3804 0.3804 0.3804 0.3804 0.3804 0.3804 0.3804 0.3804 0.3804 0.3804 0.3804"/></feComponentTransfer>
<feColorMatrix in="v" type="matrix" values="0 0 0 0 0.1843 0 0 0 0 0.5765 0 0 0 0 0.8235 0 1 0 0 0" result="bm"/>
<feComponentTransfer in="bm" result="bl"><feFuncA type="discrete" tableValues="0 0 0 0 0 0 0 0 0 0 0 0 0 0 0 0 0 0 0 0 1 1 1 1 1 1 1 1 1 1 1 1 1 1 1 1 1 1 1 1"/></feComponentTransfer>
<feMerge><feMergeNode in="c"/><feMergeNode in="bl"/></feMerge><feGaussianBlur stdDeviation="0.6"/>
</filter>
</defs>
<rect width="1268" height="774" fill="#fff"/>
<g font-size="31" fill="#000">
<text x="402.3" y="27.5" text-anchor="end">1987-1989</text>
<text x="690.5" y="27.5" text-anchor="end">1997-1999</text>
<text x="977.8" y="27.5" text-anchor="end">2012-2014</text>
<text x="1268.3" y="27.5" text-anchor="end">2021-2022</text>
</g>
<g transform="translate(0,0)"><g clip-path="url(#mc)"><g filter="url(#fm0)"><rect x="100.0" y="25.0" width="300.0" height="175.0" fill="rgb(230,135,0)"/><ellipse cx="235.0" cy="90.0" rx="25.0" ry="18.0" fill="rgb(230,128,0)"/><ellipse cx="265.0" cy="55.0" rx="15.0" ry="12.0" fill="rgb(230,128,0)"/><ellipse cx="370.0" cy="145.0" rx="18.0" ry="25.0" fill="rgb(217,115,0)"/><ellipse cx="330.0" cy="105.0" rx="20.0" ry="10.0" fill="rgb(230,133,0)"/></g></g>
<path d="M114.3 67.8 L115.5 63.1 L119.0 60.2 L122.4 60.2 L124.2 63.7 L128.3 66.6 L134.1 64.3 L139.9 66.0 L142.2 69.5 L143.4 64.3 L145.7 57.9 L150.3 56.5 L150.6 51.8 L156.2 49.1 L159.3 43.5 L165.6 48.3 L170.0 47.9 L171.5 46.3 L181.0 45.5 L198.4 46.3 L206.2 45.1 L214.1 42.4 L220.0 41.6 L220.8 45.5 L222.0 51.0 L223.2 56.2 L228.3 55.8 L236.6 54.1 L238.6 51.7 L240.5 53.7 L245.5 51.0 L245.2 48.3 L242.8 45.2 L239.7 42.4 L235.1 41.7 L233.1 37.4 L235.1 33.9 L239.0 32.4 L246.7 34.3 L253.3 35.5 L255.6 39.7 L257.6 39.7 L256.0 34.3 L259.1 32.4 L261.4 35.1 L260.3 39.0 L263.0 40.1 L264.5 33.9 L268.4 33.5 L271.5 35.9 L274.2 40.9 L279.3 40.5 L287.0 41.7 L292.4 45.2 L297.9 50.6 L300.2 55.2 L303.3 59.9 L300.6 60.7 L297.9 55.2 L292.4 54.8 L287.0 56.8 L282.8 62.2 L277.7 64.5 L273.8 68.4 L274.6 70.7 L280.8 73.1 L286.2 73.4 L291.7 76.9 L297.9 75.4 L303.3 76.2 L308.9 75.4 L313.5 77.8 L317.8 82.4 L319.0 86.3 L322.8 89.4 L328.3 91.7 L335.2 93.6 L338.3 97.9 L347.2 105.7 L350.7 111.1 L355.4 113.4 L363.9 114.6 L371.7 115.7 L376.3 119.6 L381.7 128.1 L385.3 138.1 L384.6 147.8 L389.1 151.0 L389.1 158.8 L385.9 166.5 L376.2 169.1 L369.8 173.0 L369.8 176.2 L364.6 176.8 L363.3 189.8 L359.4 193.6 L356.8 185.9 L353.0 180.7 L351.0 171.7 L343.9 162.6 L342.6 156.2 L338.8 149.7 L334.9 147.1 L331.0 150.4 L327.1 152.9 L322.6 153.6 L316.8 158.1 L306.5 158.8 L300.0 157.5 L289.3 155.0 L277.2 151.8 L269.5 146.2 L267.2 143.5 L267.2 134.4 L264.0 130.3 L260.4 131.7 L253.2 124.9 L252.3 133.5 L251.4 139.8 L246.0 148.0 L240.1 148.0 L239.6 154.3 L237.4 157.0 L242.3 163.8 L239.6 166.5 L236.5 165.2 L234.6 160.6 L233.7 166.1 L231.5 167.0 L228.8 162.4 L220.6 157.0 L218.4 153.4 L219.3 147.1 L221.1 142.5 L219.7 141.2 L214.3 144.8 L208.9 141.6 L204.4 147.5 L192.6 148.0 L185.8 150.2 L183.6 148.9 L179.9 137.1 L170.0 134.4 L167.8 132.9 L159.7 133.5 L155.0 131.2 L147.4 125.9 L144.5 122.4 L138.1 116.0 L131.7 115.5 L128.8 111.4 L132.3 106.2 L136.4 105.0 L141.0 101.5 L138.1 98.6 L131.7 97.4 L125.9 94.0 L119.0 92.8 L117.2 86.4 L114.9 78.3Z" fill="none" stroke="#4d4d4d" stroke-width="1.3"/>
<text transform="translate(151.2,86.9) scale(0.89,1)" font-size="30.5" font-weight="bold" fill="#ffff00">A</text><rect x="171" y="90" width="9" height="6" rx="1.5" fill="#ffff00"/>
<text transform="translate(269.5,132.6) scale(0.85,1)" font-size="30.5" font-weight="bold" fill="#ffff00">B</text><rect x="293.5" y="122.3" width="16" height="10" fill="none" stroke="#ffff00" stroke-width="3"/></g><g transform="translate(288.8,0)"><g clip-path="url(#mc)"><g filter="url(#fm1)"><rect x="100.0" y="25.0" width="300.0" height="175.0" fill="rgb(128,56,0)"/><ellipse cx="190.0" cy="120.0" rx="60.0" ry="30.0" fill="rgb(138,102,0)"/><ellipse cx="300.0" cy="140.0" rx="35.0" ry="22.0" fill="rgb(128,112,0)"/><ellipse cx="240.0" cy="95.0" rx="15.0" ry="30.0" fill="rgb(133,76,0)"/><ellipse cx="370.0" cy="150.0" rx="18.0" ry="28.0" fill="rgb(115,76,0)"/><ellipse cx="190.0" cy="52.0" rx="35.0" ry="8.0" fill="rgb(122,64,0)"/><ellipse cx="265.0" cy="50.0" rx="28.0" ry="12.0" fill="rgb(115,64,0)"/><ellipse cx="135.0" cy="75.0" rx="18.0" ry="12.0" fill="rgb(158,89,0)"/></g></g>
<path d="M114.3 67.8 L115.5 63.1 L119.0 60.2 L122.4 60.2 L124.2 63.7 L128.3 66.6 L134.1 64.3 L139.9 66.0 L142.2 69.5 L143.4 64.3 L145.7 57.9 L150.3 56.5 L150.6 51.8 L156.2 49.1 L159.3 43.5 L165.6 48.3 L170.0 47.9 L171.5 46.3 L181.0 45.5 L198.4 46.3 L206.2 45.1 L214.1 42.4 L220.0 41.6 L220.8 45.5 L222.0 51.0 L223.2 56.2 L228.3 55.8 L236.6 54.1 L238.6 51.7 L240.5 53.7 L245.5 51.0 L245.2 48.3 L242.8 45.2 L239.7 42.4 L235.1 41.7 L233.1 37.4 L235.1 33.9 L239.0 32.4 L246.7 34.3 L253.3 35.5 L255.6 39.7 L257.6 39.7 L256.0 34.3 L259.1 32.4 L261.4 35.1 L260.3 39.0 L263.0 40.1 L264.5 33.9 L268.4 33.5 L271.5 35.9 L274.2 40.9 L279.3 40.5 L287.0 41.7 L292.4 45.2 L297.9 50.6 L300.2 55.2 L303.3 59.9 L300.6 60.7 L297.9 55.2 L292.4 54.8 L287.0 56.8 L282.8 62.2 L277.7 64.5 L273.8 68.4 L274.6 70.7 L280.8 73.1 L286.2 73.4 L291.7 76.9 L297.9 75.4 L303.3 76.2 L308.9 75.4 L313.5 77.8 L317.8 82.4 L319.0 86.3 L322.8 89.4 L328.3 91.7 L335.2 93.6 L338.3 97.9 L347.2 105.7 L350.7 111.1 L355.4 113.4 L363.9 114.6 L371.7 115.7 L376.3 119.6 L381.7 128.1 L385.3 138.1 L384.6 147.8 L389.1 151.0 L389.1 158.8 L385.9 166.5 L376.2 169.1 L369.8 173.0 L369.8 176.2 L364.6 176.8 L363.3 189.8 L359.4 193.6 L356.8 185.9 L353.0 180.7 L351.0 171.7 L343.9 162.6 L342.6 156.2 L338.8 149.7 L334.9 147.1 L331.0 150.4 L327.1 152.9 L322.6 153.6 L316.8 158.1 L306.5 158.8 L300.0 157.5 L289.3 155.0 L277.2 151.8 L269.5 146.2 L267.2 143.5 L267.2 134.4 L264.0 130.3 L260.4 131.7 L253.2 124.9 L252.3 133.5 L251.4 139.8 L246.0 148.0 L240.1 148.0 L239.6 154.3 L237.4 157.0 L242.3 163.8 L239.6 166.5 L236.5 165.2 L234.6 160.6 L233.7 166.1 L231.5 167.0 L228.8 162.4 L220.6 157.0 L218.4 153.4 L219.3 147.1 L221.1 142.5 L219.7 141.2 L214.3 144.8 L208.9 141.6 L204.4 147.5 L192.6 148.0 L185.8 150.2 L183.6 148.9 L179.9 137.1 L170.0 134.4 L167.8 132.9 L159.7 133.5 L155.0 131.2 L147.4 125.9 L144.5 122.4 L138.1 116.0 L131.7 115.5 L128.8 111.4 L132.3 106.2 L136.4 105.0 L141.0 101.5 L138.1 98.6 L131.7 97.4 L125.9 94.0 L119.0 92.8 L117.2 86.4 L114.9 78.3Z" fill="none" stroke="#4d4d4d" stroke-width="1.3"/>
<text transform="translate(151.2,86.9) scale(0.89,1)" font-size="30.5" font-weight="bold" fill="#ffff00">A</text><rect x="171" y="90" width="9" height="6" rx="1.5" fill="#ffff00"/>
<text transform="translate(269.5,132.6) scale(0.85,1)" font-size="30.5" font-weight="bold" fill="#ffff00">B</text><rect x="293.5" y="122.3" width="16" height="10" fill="none" stroke="#ffff00" stroke-width="3"/></g><g transform="translate(576.8,0)"><g clip-path="url(#mc)"><g filter="url(#fm2)"><rect x="100.0" y="25.0" width="300.0" height="175.0" fill="rgb(84,69,0)"/><ellipse cx="125.0" cy="75.0" rx="14.0" ry="16.0" fill="rgb(143,76,0)"/><ellipse cx="200.0" cy="50.0" rx="25.0" ry="6.0" fill="rgb(133,76,0)"/><ellipse cx="270.0" cy="55.0" rx="25.0" ry="15.0" fill="rgb(133,82,0)"/><ellipse cx="375.0" cy="140.0" rx="13.0" ry="28.0" fill="rgb(133,92,0)"/><ellipse cx="190.0" cy="130.0" rx="60.0" ry="28.0" fill="rgb(112,107,0)"/><ellipse cx="170.0" cy="110.0" rx="25.0" ry="15.0" fill="rgb(112,107,0)"/><ellipse cx="290.0" cy="150.0" rx="25.0" ry="10.0" fill="rgb(112,97,0)"/><ellipse cx="240.0" cy="115.0" rx="20.0" ry="20.0" fill="rgb(107,102,0)"/><ellipse cx="355.0" cy="165.0" rx="8.0" ry="20.0" fill="rgb(115,107,0)"/><ellipse cx="290.0" cy="70.0" rx="15.0" ry="10.0" fill="rgb(122,82,0)"/></g></g>
<path d="M114.3 67.8 L115.5 63.1 L119.0 60.2 L122.4 60.2 L124.2 63.7 L128.3 66.6 L134.1 64.3 L139.9 66.0 L142.2 69.5 L143.4 64.3 L145.7 57.9 L150.3 56.5 L150.6 51.8 L156.2 49.1 L159.3 43.5 L165.6 48.3 L170.0 47.9 L171.5 46.3 L181.0 45.5 L198.4 46.3 L206.2 45.1 L214.1 42.4 L220.0 41.6 L220.8 45.5 L222.0 51.0 L223.2 56.2 L228.3 55.8 L236.6 54.1 L238.6 51.7 L240.5 53.7 L245.5 51.0 L245.2 48.3 L242.8 45.2 L239.7 42.4 L235.1 41.7 L233.1 37.4 L235.1 33.9 L239.0 32.4 L246.7 34.3 L253.3 35.5 L255.6 39.7 L257.6 39.7 L256.0 34.3 L259.1 32.4 L261.4 35.1 L260.3 39.0 L263.0 40.1 L264.5 33.9 L268.4 33.5 L271.5 35.9 L274.2 40.9 L279.3 40.5 L287.0 41.7 L292.4 45.2 L297.9 50.6 L300.2 55.2 L303.3 59.9 L300.6 60.7 L297.9 55.2 L292.4 54.8 L287.0 56.8 L282.8 62.2 L277.7 64.5 L273.8 68.4 L274.6 70.7 L280.8 73.1 L286.2 73.4 L291.7 76.9 L297.9 75.4 L303.3 76.2 L308.9 75.4 L313.5 77.8 L317.8 82.4 L319.0 86.3 L322.8 89.4 L328.3 91.7 L335.2 93.6 L338.3 97.9 L347.2 105.7 L350.7 111.1 L355.4 113.4 L363.9 114.6 L371.7 115.7 L376.3 119.6 L381.7 128.1 L385.3 138.1 L384.6 147.8 L389.1 151.0 L389.1 158.8 L385.9 166.5 L376.2 169.1 L369.8 173.0 L369.8 176.2 L364.6 176.8 L363.3 189.8 L359.4 193.6 L356.8 185.9 L353.0 180.7 L351.0 171.7 L343.9 162.6 L342.6 156.2 L338.8 149.7 L334.9 147.1 L331.0 150.4 L327.1 152.9 L322.6 153.6 L316.8 158.1 L306.5 158.8 L300.0 157.5 L289.3 155.0 L277.2 151.8 L269.5 146.2 L267.2 143.5 L267.2 134.4 L264.0 130.3 L260.4 131.7 L253.2 124.9 L252.3 133.5 L251.4 139.8 L246.0 148.0 L240.1 148.0 L239.6 154.3 L237.4 157.0 L242.3 163.8 L239.6 166.5 L236.5 165.2 L234.6 160.6 L233.7 166.1 L231.5 167.0 L228.8 162.4 L220.6 157.0 L218.4 153.4 L219.3 147.1 L221.1 142.5 L219.7 141.2 L214.3 144.8 L208.9 141.6 L204.4 147.5 L192.6 148.0 L185.8 150.2 L183.6 148.9 L179.9 137.1 L170.0 134.4 L167.8 132.9 L159.7 133.5 L155.0 131.2 L147.4 125.9 L144.5 122.4 L138.1 116.0 L131.7 115.5 L128.8 111.4 L132.3 106.2 L136.4 105.0 L141.0 101.5 L138.1 98.6 L131.7 97.4 L125.9 94.0 L119.0 92.8 L117.2 86.4 L114.9 78.3Z" fill="none" stroke="#4d4d4d" stroke-width="1.3"/>
<text transform="translate(151.2,86.9) scale(0.89,1)" font-size="30.5" font-weight="bold" fill="#ffff00">A</text><rect x="171" y="90" width="9" height="6" rx="1.5" fill="#ffff00"/>
<text transform="translate(269.5,132.6) scale(0.85,1)" font-size="30.5" font-weight="bold" fill="#ffff00">B</text><rect x="293.5" y="122.3" width="16" height="10" fill="none" stroke="#ffff00" stroke-width="3"/></g><g transform="translate(865.7,0)"><g clip-path="url(#mc)"><g filter="url(#fm3)"><rect x="100.0" y="25.0" width="300.0" height="175.0" fill="rgb(84,69,0)"/><ellipse cx="125.0" cy="75.0" rx="14.0" ry="16.0" fill="rgb(143,76,0)"/><ellipse cx="200.0" cy="50.0" rx="25.0" ry="6.0" fill="rgb(133,76,0)"/><ellipse cx="270.0" cy="55.0" rx="25.0" ry="15.0" fill="rgb(133,82,0)"/><ellipse cx="375.0" cy="140.0" rx="13.0" ry="28.0" fill="rgb(133,92,0)"/><ellipse cx="190.0" cy="130.0" rx="60.0" ry="28.0" fill="rgb(112,107,0)"/><ellipse cx="170.0" cy="110.0" rx="25.0" ry="15.0" fill="rgb(112,107,0)"/><ellipse cx="290.0" cy="150.0" rx="25.0" ry="10.0" fill="rgb(112,97,0)"/><ellipse cx="240.0" cy="115.0" rx="20.0" ry="20.0" fill="rgb(107,102,0)"/><ellipse cx="355.0" cy="165.0" rx="8.0" ry="20.0" fill="rgb(115,107,0)"/><ellipse cx="290.0" cy="70.0" rx="15.0" ry="10.0" fill="rgb(122,82,0)"/></g></g>
<path d="M114.3 67.8 L115.5 63.1 L119.0 60.2 L122.4 60.2 L124.2 63.7 L128.3 66.6 L134.1 64.3 L139.9 66.0 L142.2 69.5 L143.4 64.3 L145.7 57.9 L150.3 56.5 L150.6 51.8 L156.2 49.1 L159.3 43.5 L165.6 48.3 L170.0 47.9 L171.5 46.3 L181.0 45.5 L198.4 46.3 L206.2 45.1 L214.1 42.4 L220.0 41.6 L220.8 45.5 L222.0 51.0 L223.2 56.2 L228.3 55.8 L236.6 54.1 L238.6 51.7 L240.5 53.7 L245.5 51.0 L245.2 48.3 L242.8 45.2 L239.7 42.4 L235.1 41.7 L233.1 37.4 L235.1 33.9 L239.0 32.4 L246.7 34.3 L253.3 35.5 L255.6 39.7 L257.6 39.7 L256.0 34.3 L259.1 32.4 L261.4 35.1 L260.3 39.0 L263.0 40.1 L264.5 33.9 L268.4 33.5 L271.5 35.9 L274.2 40.9 L279.3 40.5 L287.0 41.7 L292.4 45.2 L297.9 50.6 L300.2 55.2 L303.3 59.9 L300.6 60.7 L297.9 55.2 L292.4 54.8 L287.0 56.8 L282.8 62.2 L277.7 64.5 L273.8 68.4 L274.6 70.7 L280.8 73.1 L286.2 73.4 L291.7 76.9 L297.9 75.4 L303.3 76.2 L308.9 75.4 L313.5 77.8 L317.8 82.4 L319.0 86.3 L322.8 89.4 L328.3 91.7 L335.2 93.6 L338.3 97.9 L347.2 105.7 L350.7 111.1 L355.4 113.4 L363.9 114.6 L371.7 115.7 L376.3 119.6 L381.7 128.1 L385.3 138.1 L384.6 147.8 L389.1 151.0 L389.1 158.8 L385.9 166.5 L376.2 169.1 L369.8 173.0 L369.8 176.2 L364.6 176.8 L363.3 189.8 L359.4 193.6 L356.8 185.9 L353.0 180.7 L351.0 171.7 L343.9 162.6 L342.6 156.2 L338.8 149.7 L334.9 147.1 L331.0 150.4 L327.1 152.9 L322.6 153.6 L316.8 158.1 L306.5 158.8 L300.0 157.5 L289.3 155.0 L277.2 151.8 L269.5 146.2 L267.2 143.5 L267.2 134.4 L264.0 130.3 L260.4 131.7 L253.2 124.9 L252.3 133.5 L251.4 139.8 L246.0 148.0 L240.1 148.0 L239.6 154.3 L237.4 157.0 L242.3 163.8 L239.6 166.5 L236.5 165.2 L234.6 160.6 L233.7 166.1 L231.5 167.0 L228.8 162.4 L220.6 157.0 L218.4 153.4 L219.3 147.1 L221.1 142.5 L219.7 141.2 L214.3 144.8 L208.9 141.6 L204.4 147.5 L192.6 148.0 L185.8 150.2 L183.6 148.9 L179.9 137.1 L170.0 134.4 L167.8 132.9 L159.7 133.5 L155.0 131.2 L147.4 125.9 L144.5 122.4 L138.1 116.0 L131.7 115.5 L128.8 111.4 L132.3 106.2 L136.4 105.0 L141.0 101.5 L138.1 98.6 L131.7 97.4 L125.9 94.0 L119.0 92.8 L117.2 86.4 L114.9 78.3Z" fill="none" stroke="#4d4d4d" stroke-width="1.3"/>
<text transform="translate(151.2,86.9) scale(0.89,1)" font-size="30.5" font-weight="bold" fill="#ffff00">A</text><rect x="171" y="90" width="9" height="6" rx="1.5" fill="#ffff00"/>
<text transform="translate(269.5,132.6) scale(0.85,1)" font-size="30.5" font-weight="bold" fill="#ffff00">B</text><rect x="293.5" y="122.3" width="16" height="10" fill="none" stroke="#ffff00" stroke-width="3"/></g>
<g font-size="27" fill="#000">
<text x="109" y="184.3">0</text><text x="178" y="184.3">60</text>
<rect x="115.5" y="194.5" width="77" height="15.5" fill="#fff" stroke="#999" stroke-width="1"/>
<rect x="115" y="194" width="39" height="16.5" fill="#000"/>
<text x="196.5" y="209.7">km</text>
</g>
<g clip-path="url(#cA1)"><g filter="url(#fA1)"><rect x="96" y="214" width="313" height="201" fill="rgb(250,0,0)"/>
<ellipse cx="163.0" cy="240.0" rx="4.5" ry="13.0" fill="rgb(219,255,0)"/>
<ellipse cx="153.0" cy="249.0" rx="1.5" ry="5.0" fill="rgb(219,255,0)"/>
<ellipse cx="116.0" cy="293.0" rx="6.0" ry="4.0" fill="rgb(219,255,0)"/>
<ellipse cx="125.0" cy="302.0" rx="4.0" ry="2.5" fill="rgb(219,255,0)"/>
<ellipse cx="111.0" cy="311.0" rx="3.0" ry="2.5" fill="rgb(219,255,0)"/>
<ellipse cx="257.0" cy="244.0" rx="5.0" ry="7.0" fill="rgb(219,255,0)"/>
<ellipse cx="262.0" cy="253.0" rx="3.0" ry="2.0" fill="rgb(219,255,0)"/>
<ellipse cx="285.0" cy="251.0" rx="4.0" ry="2.5" fill="rgb(219,255,0)"/>
<ellipse cx="340.0" cy="242.0" rx="3.0" ry="4.0" fill="rgb(219,255,0)"/>
<ellipse cx="349.0" cy="248.0" rx="3.0" ry="2.5" fill="rgb(219,255,0)"/>
<ellipse cx="246.0" cy="231.0" rx="2.0" ry="3.0" fill="rgb(219,255,0)"/>
<ellipse cx="251.0" cy="240.0" rx="2.0" ry="2.0" fill="rgb(219,255,0)"/>
<path d="M300.0 292.0 L322.0 290.0 L332.0 296.0 L330.0 310.0 L328.0 322.0 L320.0 330.0 L322.0 346.0 L314.0 345.0 L308.0 335.0 L302.0 328.0 L296.0 318.0 L300.0 306.0 Z" fill="rgb(219,255,0)"/>
<ellipse cx="362.0" cy="299.0" rx="6.0" ry="4.0" fill="rgb(219,255,0)"/>
<ellipse cx="270.0" cy="298.0" rx="6.0" ry="3.0" fill="rgb(219,255,0)"/>
<ellipse cx="262.0" cy="308.0" rx="3.0" ry="4.0" fill="rgb(219,255,0)"/>
<ellipse cx="278.0" cy="310.0" rx="3.0" ry="4.0" fill="rgb(219,255,0)"/>
<ellipse cx="390.0" cy="310.0" rx="5.0" ry="5.0" fill="rgb(219,255,0)"/>
<ellipse cx="195.0" cy="322.0" rx="5.0" ry="6.0" fill="rgb(219,255,0)"/>
<ellipse cx="215.0" cy="318.0" rx="6.0" ry="3.0" fill="rgb(219,255,0)"/>
<ellipse cx="244.0" cy="322.0" rx="8.0" ry="8.0" fill="rgb(219,255,0)"/>
<ellipse cx="272.0" cy="325.0" rx="3.0" ry="5.0" fill="rgb(219,255,0)"/>
<ellipse cx="264.0" cy="361.0" rx="7.0" ry="8.0" fill="rgb(219,255,0)" transform="rotate(-30 264.0 361.0)"/>
<ellipse cx="356.0" cy="351.0" rx="3.0" ry="3.0" fill="rgb(219,255,0)"/>
<ellipse cx="374.0" cy="365.0" rx="8.0" ry="7.0" fill="rgb(219,255,0)"/>
<ellipse cx="237.0" cy="352.0" rx="4.0" ry="2.5" fill="rgb(219,255,0)"/>
<ellipse cx="389.0" cy="318.0" rx="4.0" ry="4.0" fill="rgb(219,255,0)"/>
<ellipse cx="176.0" cy="385.0" rx="18.0" ry="9.0" fill="rgb(219,255,0)"/>
<ellipse cx="150.0" cy="398.0" rx="22.0" ry="5.0" fill="rgb(219,255,0)"/>
<ellipse cx="360.0" cy="392.0" rx="14.0" ry="12.0" fill="rgb(219,255,0)"/>
<ellipse cx="352.0" cy="385.0" rx="5.0" ry="6.0" fill="rgb(219,255,0)"/>
<ellipse cx="230.0" cy="265.0" rx="2.0" ry="2.0" fill="rgb(219,255,0)"/>
<ellipse cx="210.0" cy="290.0" rx="2.0" ry="2.0" fill="rgb(219,255,0)"/>
<ellipse cx="169.0" cy="340.0" rx="2.0" ry="2.0" fill="rgb(219,255,0)"/>
<ellipse cx="228.0" cy="307.0" rx="2.0" ry="2.0" fill="rgb(219,255,0)"/>
<ellipse cx="289.0" cy="384.0" rx="2.0" ry="2.0" fill="rgb(219,255,0)"/>
<ellipse cx="300.0" cy="393.0" rx="2.0" ry="2.0" fill="rgb(219,255,0)"/>
<ellipse cx="186.0" cy="366.0" rx="3.0" ry="2.0" fill="rgb(219,255,0)"/>
<ellipse cx="342.0" cy="349.0" rx="10.0" ry="19.0" fill="rgb(128,0,0)"/>
<ellipse cx="340.0" cy="342.0" rx="5.0" ry="6.0" fill="rgb(112,0,0)"/>
<ellipse cx="345.0" cy="358.0" rx="5.0" ry="5.0" fill="rgb(112,0,0)"/>
<path d="M376.0 230.0 L372.0 250.0 L364.0 268.0 L358.0 276.0" fill="none" stroke="rgb(178,0,0)" stroke-width="5.0" stroke-linecap="round" stroke-linejoin="round"/>
<ellipse cx="124.0" cy="348.0" rx="9.0" ry="7.0" fill="rgb(143,0,0)"/>
<ellipse cx="392.0" cy="370.0" rx="4.0" ry="18.0" fill="rgb(168,0,0)"/>
<ellipse cx="313.0" cy="388.0" rx="5.0" ry="12.0" fill="rgb(173,0,0)"/></g></g><g clip-path="url(#cA2)"><g filter="url(#fA2)"><rect x="385" y="214" width="313" height="201" fill="rgb(250,0,0)"/>
<path d="M658.0 226.0 L687.0 226.0 L687.0 403.0 L600.0 403.0 L610.0 392.0 L626.0 388.0 L622.0 370.0 L612.0 355.0 L606.0 335.0 L610.0 318.0 L625.0 308.0 L633.0 293.0 L639.0 274.0 L643.0 254.0 L645.0 234.0 Z" fill="rgb(138,0,0)"/>
<ellipse cx="655.0" cy="243.0" rx="8.0" ry="10.0" fill="rgb(92,0,0)"/>
<ellipse cx="676.0" cy="287.0" rx="10.0" ry="20.0" fill="rgb(92,0,0)"/>
<ellipse cx="680.0" cy="250.0" rx="6.0" ry="12.0" fill="rgb(107,0,0)"/>
<ellipse cx="628.0" cy="336.0" rx="13.0" ry="17.0" fill="rgb(102,0,0)"/>
<ellipse cx="630.0" cy="334.0" rx="7.0" ry="9.0" fill="rgb(76,0,0)"/>
<ellipse cx="658.0" cy="340.0" rx="9.0" ry="28.0" fill="rgb(217,0,0)"/>
<ellipse cx="646.0" cy="372.0" rx="18.0" ry="10.0" fill="rgb(158,0,0)"/>
<ellipse cx="592.0" cy="400.0" rx="12.0" ry="6.0" fill="rgb(128,0,0)"/>
<ellipse cx="665.0" cy="395.0" rx="12.0" ry="10.0" fill="rgb(115,0,0)"/>
<path d="M412.0 251.0 L415.0 270.0 L425.0 295.0 L432.0 312.0" fill="none" stroke="rgb(143,51,0)" stroke-width="3.0" stroke-linecap="round" stroke-linejoin="round"/>
<path d="M418.0 251.0 L430.0 266.0 L442.0 280.0 L448.0 298.0" fill="none" stroke="rgb(143,76,0)" stroke-width="3.0" stroke-linecap="round" stroke-linejoin="round"/>
<ellipse cx="415.0" cy="268.0" rx="2.0" ry="4.0" fill="rgb(219,255,0)"/>
<ellipse cx="429.0" cy="267.0" rx="4.0" ry="6.0" fill="rgb(219,255,0)"/>
<ellipse cx="447.0" cy="289.0" rx="2.5" ry="9.0" fill="rgb(219,255,0)"/>
<ellipse cx="453.0" cy="239.0" rx="2.0" ry="2.0" fill="rgb(219,255,0)"/>
<ellipse cx="410.0" cy="360.0" rx="12.0" ry="22.0" fill="rgb(163,0,0)"/>
<ellipse cx="404.0" cy="378.0" rx="5.0" ry="7.0" fill="rgb(128,0,0)"/>
<ellipse cx="476.0" cy="385.0" rx="4.0" ry="3.0" fill="rgb(128,0,0)"/>
<ellipse cx="458.0" cy="383.0" rx="5.0" ry="4.0" fill="rgb(219,255,0)"/>
<ellipse cx="580.0" cy="309.0" rx="3.0" ry="4.0" fill="rgb(219,255,0)"/>
<ellipse cx="534.0" cy="330.0" rx="3.0" ry="2.5" fill="rgb(219,255,0)"/>
<ellipse cx="530.0" cy="363.0" rx="5.0" ry="5.0" fill="rgb(219,255,0)"/>
<ellipse cx="541.0" cy="370.0" rx="3.0" ry="4.0" fill="rgb(219,255,0)"/>
<ellipse cx="553.0" cy="290.0" rx="2.0" ry="2.0" fill="rgb(219,255,0)"/>
<ellipse cx="570.0" cy="315.0" rx="2.0" ry="2.0" fill="rgb(219,255,0)"/>
<ellipse cx="520.0" cy="347.0" rx="2.0" ry="2.0" fill="rgb(219,255,0)"/>
<ellipse cx="480.0" cy="325.0" rx="2.0" ry="2.0" fill="rgb(219,255,0)"/>
<ellipse cx="555.0" cy="291.0" rx="3.0" ry="3.0" fill="rgb(219,255,0)"/>
<ellipse cx="568.0" cy="292.0" rx="3.0" ry="3.0" fill="rgb(219,255,0)"/>
<ellipse cx="565.0" cy="390.0" rx="3.0" ry="2.0" fill="rgb(219,255,0)"/></g></g><g clip-path="url(#cA3)"><g filter="url(#fA3)"><rect x="675" y="214" width="311" height="201" fill="rgb(250,0,0)"/>
<path d="M936.0 226.0 L974.0 226.0 L974.0 403.0 L955.0 403.0 L958.0 380.0 L962.0 360.0 L955.0 335.0 L945.0 318.0 L938.0 306.0 L935.0 292.0 L938.0 270.0 L934.0 250.0 Z" fill="rgb(66,0,0)"/>
<ellipse cx="958.0" cy="245.0" rx="8.0" ry="12.0" fill="rgb(107,0,0)"/>
<ellipse cx="950.0" cy="300.0" rx="8.0" ry="8.0" fill="rgb(102,0,0)"/>
<path d="M900.0 312.0 L930.0 306.0 L942.0 318.0 L946.0 345.0 L948.0 372.0 L944.0 392.0 L930.0 398.0 L918.0 392.0 L912.0 370.0 L906.0 345.0 L898.0 330.0 Z" fill="rgb(107,0,0)"/>
<ellipse cx="927.0" cy="352.0" rx="9.0" ry="14.0" fill="rgb(66,0,0)"/>
<ellipse cx="922.0" cy="382.0" rx="6.0" ry="8.0" fill="rgb(76,0,0)"/>
<ellipse cx="955.0" cy="352.0" rx="5.0" ry="20.0" fill="rgb(204,0,0)"/>
<ellipse cx="967.0" cy="392.0" rx="8.0" ry="14.0" fill="rgb(76,0,0)"/>
<ellipse cx="895.0" cy="398.0" rx="14.0" ry="6.0" fill="rgb(89,0,0)"/>
<ellipse cx="887.0" cy="350.0" rx="6.0" ry="10.0" fill="rgb(140,0,0)"/>
<ellipse cx="905.0" cy="290.0" rx="4.0" ry="8.0" fill="rgb(153,0,0)"/>
<ellipse cx="841.0" cy="361.0" rx="8.0" ry="9.0" fill="rgb(128,0,0)"/>
<ellipse cx="854.0" cy="386.0" rx="6.0" ry="6.0" fill="rgb(128,0,0)"/>
<ellipse cx="870.0" cy="330.0" rx="5.0" ry="6.0" fill="rgb(140,0,0)"/>
<ellipse cx="880.0" cy="380.0" rx="6.0" ry="6.0" fill="rgb(133,0,0)"/>
<path d="M702.0 251.0 L718.0 265.0 L734.0 281.0" fill="none" stroke="rgb(128,0,0)" stroke-width="3.0" stroke-linecap="round" stroke-linejoin="round"/>
<path d="M709.0 271.0 L715.0 290.0 L720.0 305.0" fill="none" stroke="rgb(133,0,0)" stroke-width="3.0" stroke-linecap="round" stroke-linejoin="round"/>
<path d="M740.0 234.0 L740.0 267.0" fill="none" stroke="rgb(115,0,0)" stroke-width="3.0" stroke-linecap="round" stroke-linejoin="round"/>
<ellipse cx="794.0" cy="272.0" rx="6.0" ry="5.0" fill="rgb(128,0,0)"/>
<ellipse cx="805.0" cy="298.0" rx="4.0" ry="5.0" fill="rgb(153,0,0)"/>
<path d="M813.0 228.0 L822.0 245.0 L828.0 252.0" fill="none" stroke="rgb(153,0,0)" stroke-width="3.5" stroke-linecap="round" stroke-linejoin="round"/>
<path d="M688.0 342.0 L705.0 350.0 L724.0 354.0" fill="none" stroke="rgb(115,0,0)" stroke-width="7.0" stroke-linecap="round" stroke-linejoin="round"/>
<ellipse cx="696.0" cy="382.0" rx="10.0" ry="14.0" fill="rgb(76,0,0)"/>
<ellipse cx="765.0" cy="388.0" rx="28.0" ry="8.0" fill="rgb(140,0,0)"/>
<ellipse cx="780.0" cy="380.0" rx="6.0" ry="5.0" fill="rgb(89,0,0)"/>
<ellipse cx="755.0" cy="385.0" rx="5.0" ry="5.0" fill="rgb(89,0,0)"/>
<ellipse cx="782.0" cy="322.0" rx="10.0" ry="5.0" fill="rgb(115,0,0)"/>
<ellipse cx="826.0" cy="330.0" rx="6.0" ry="13.0" fill="rgb(107,0,0)"/>
<ellipse cx="775.0" cy="321.0" rx="4.0" ry="2.0" fill="rgb(219,230,0)"/>
<ellipse cx="777.0" cy="326.0" rx="4.0" ry="2.0" fill="rgb(219,230,0)"/>
<ellipse cx="880.0" cy="312.0" rx="4.0" ry="1.5" fill="rgb(219,230,0)"/>
<ellipse cx="855.0" cy="232.0" rx="10.0" ry="3.0" fill="rgb(153,0,0)"/>
<ellipse cx="730.0" cy="400.0" rx="10.0" ry="4.0" fill="rgb(153,0,0)"/>
<ellipse cx="820.0" cy="270.0" rx="4.0" ry="4.0" fill="rgb(153,0,0)"/>
<ellipse cx="760.0" cy="300.0" rx="4.0" ry="4.0" fill="rgb(158,0,0)"/></g></g><g clip-path="url(#cA4)"><g filter="url(#fA4)"><rect x="962" y="214" width="314" height="201" fill="rgb(250,0,0)"/>
<path d="M1218.0 226.0 L1264.0 226.0 L1264.0 403.0 L1160.0 403.0 L1175.0 390.0 L1190.0 375.0 L1200.0 350.0 L1205.0 320.0 L1212.0 290.0 L1216.0 260.0 Z" fill="rgb(138,0,0)"/>
<path d="M1225.0 226.0 L1264.0 226.0 L1264.0 330.0 L1250.0 325.0 L1232.0 318.0 L1224.0 295.0 L1226.0 265.0 Z" fill="rgb(66,0,0)"/>
<ellipse cx="1257.0" cy="370.0" rx="7.0" ry="30.0" fill="rgb(76,0,0)"/>
<ellipse cx="1230.0" cy="262.0" rx="8.0" ry="14.0" fill="rgb(97,0,0)"/>
<ellipse cx="1198.0" cy="368.0" rx="12.0" ry="22.0" fill="rgb(219,0,0)"/>
<ellipse cx="1245.0" cy="390.0" rx="12.0" ry="12.0" fill="rgb(178,0,0)"/>
<ellipse cx="1000.0" cy="295.0" rx="24.0" ry="48.0" fill="rgb(168,0,0)"/>
<ellipse cx="992.0" cy="292.0" rx="10.0" ry="10.0" fill="rgb(133,0,0)"/>
<path d="M985.0 255.0 L1000.0 275.0 L1012.0 300.0" fill="none" stroke="rgb(140,0,0)" stroke-width="4.0" stroke-linecap="round" stroke-linejoin="round"/>
<ellipse cx="1000.0" cy="357.0" rx="26.0" ry="20.0" fill="rgb(153,0,0)"/>
<ellipse cx="1000.0" cy="365.0" rx="15.0" ry="8.0" fill="rgb(173,0,0)"/>
<ellipse cx="990.0" cy="384.0" rx="17.0" ry="12.0" fill="rgb(82,0,0)"/>
<path d="M980.0 372.0 L1060.0 365.0 L1120.0 360.0 L1175.0 370.0 L1175.0 403.0 L980.0 403.0 Z" fill="rgb(158,0,0)"/>
<ellipse cx="1052.0" cy="387.0" rx="7.0" ry="6.0" fill="rgb(76,0,0)"/>
<ellipse cx="1030.0" cy="395.0" rx="8.0" ry="4.0" fill="rgb(89,0,0)"/>
<ellipse cx="1140.0" cy="395.0" rx="15.0" ry="8.0" fill="rgb(115,0,0)"/>
<ellipse cx="1070.0" cy="323.0" rx="14.0" ry="7.0" fill="rgb(128,0,0)"/>
<ellipse cx="1078.0" cy="351.0" rx="7.0" ry="5.0" fill="rgb(140,0,0)"/>
<ellipse cx="1090.0" cy="363.0" rx="8.0" ry="6.0" fill="rgb(140,0,0)"/>
<ellipse cx="1032.0" cy="355.0" rx="12.0" ry="5.0" fill="rgb(148,0,0)"/>
<ellipse cx="1112.0" cy="328.0" rx="5.0" ry="15.0" fill="rgb(102,0,0)"/>
<ellipse cx="1140.0" cy="360.0" rx="10.0" ry="8.0" fill="rgb(140,0,0)"/>
<path d="M1028.0 230.0 L1029.0 265.0" fill="none" stroke="rgb(140,0,0)" stroke-width="3.5" stroke-linecap="round" stroke-linejoin="round"/>
<ellipse cx="1028.0" cy="291.0" rx="3.0" ry="5.0" fill="rgb(102,0,0)"/>
<ellipse cx="1093.0" cy="297.0" rx="6.0" ry="6.0" fill="rgb(153,0,0)"/>
<ellipse cx="1150.0" cy="234.0" rx="8.0" ry="6.0" fill="rgb(140,0,0)"/>
<ellipse cx="1200.0" cy="250.0" rx="4.0" ry="4.0" fill="rgb(128,0,0)"/>
<ellipse cx="1205.0" cy="265.0" rx="5.0" ry="5.0" fill="rgb(128,0,0)"/>
<ellipse cx="1028.0" cy="237.0" rx="2.0" ry="5.0" fill="rgb(219,230,0)"/>
<ellipse cx="1062.0" cy="318.0" rx="5.0" ry="4.0" fill="rgb(219,230,0)"/>
<ellipse cx="1166.0" cy="309.0" rx="8.0" ry="2.5" fill="rgb(219,230,0)"/>
<ellipse cx="1110.0" cy="359.0" rx="2.5" ry="2.5" fill="rgb(219,230,0)"/></g></g><g clip-path="url(#cB1)"><g filter="url(#fB1)"><rect x="96" y="391" width="313" height="201" fill="rgb(230,199,0)"/>
<ellipse cx="160.0" cy="445.0" rx="12.0" ry="10.0" fill="rgb(230,128,0)"/>
<ellipse cx="182.0" cy="455.0" rx="6.0" ry="10.0" fill="rgb(230,128,0)"/>
<ellipse cx="225.0" cy="425.0" rx="18.0" ry="10.0" fill="rgb(230,128,0)"/>
<ellipse cx="232.0" cy="455.0" rx="15.0" ry="15.0" fill="rgb(230,128,0)"/>
<ellipse cx="250.0" cy="475.0" rx="10.0" ry="8.0" fill="rgb(230,128,0)"/>
<ellipse cx="130.0" cy="478.0" rx="20.0" ry="10.0" fill="rgb(230,128,0)"/>
<ellipse cx="150.0" cy="490.0" rx="12.0" ry="10.0" fill="rgb(230,128,0)"/>
<ellipse cx="190.0" cy="480.0" rx="20.0" ry="6.0" fill="rgb(230,128,0)"/>
<ellipse cx="260.0" cy="495.0" rx="15.0" ry="8.0" fill="rgb(230,128,0)"/>
<ellipse cx="300.0" cy="490.0" rx="10.0" ry="12.0" fill="rgb(230,128,0)"/>
<ellipse cx="285.0" cy="430.0" rx="10.0" ry="8.0" fill="rgb(230,128,0)"/>
<ellipse cx="330.0" cy="412.0" rx="15.0" ry="8.0" fill="rgb(230,128,0)"/>
<ellipse cx="315.0" cy="470.0" rx="12.0" ry="10.0" fill="rgb(230,128,0)"/>
<ellipse cx="360.0" cy="420.0" rx="12.0" ry="8.0" fill="rgb(230,128,0)"/>
<ellipse cx="385.0" cy="430.0" rx="12.0" ry="15.0" fill="rgb(230,128,0)"/>
<ellipse cx="375.0" cy="470.0" rx="15.0" ry="10.0" fill="rgb(230,128,0)"/>
<ellipse cx="340.0" cy="520.0" rx="15.0" ry="6.0" fill="rgb(230,128,0)"/>
<ellipse cx="300.0" cy="540.0" rx="15.0" ry="10.0" fill="rgb(230,128,0)"/>
<ellipse cx="270.0" cy="560.0" rx="12.0" ry="10.0" fill="rgb(230,128,0)"/>
<ellipse cx="360.0" cy="560.0" rx="15.0" ry="12.0" fill="rgb(230,128,0)"/>
<ellipse cx="230.0" cy="540.0" rx="15.0" ry="10.0" fill="rgb(230,128,0)"/>
<ellipse cx="150.0" cy="545.0" rx="20.0" ry="15.0" fill="rgb(230,128,0)"/>
<ellipse cx="120.0" cy="565.0" rx="12.0" ry="10.0" fill="rgb(230,128,0)"/>
<ellipse cx="205.0" cy="570.0" rx="20.0" ry="8.0" fill="rgb(230,128,0)"/>
<ellipse cx="345.0" cy="450.0" rx="10.0" ry="6.0" fill="rgb(230,128,0)"/>
<ellipse cx="210.0" cy="405.0" rx="15.0" ry="5.0" fill="rgb(230,128,0)"/>
<ellipse cx="290.0" cy="405.0" rx="15.0" ry="4.0" fill="rgb(230,128,0)"/>
<ellipse cx="113.0" cy="420.0" rx="6.0" ry="10.0" fill="rgb(230,128,0)"/>
<ellipse cx="120.0" cy="510.0" rx="10.0" ry="8.0" fill="rgb(230,128,0)"/>
<ellipse cx="380.0" cy="515.0" rx="12.0" ry="6.0" fill="rgb(230,128,0)"/>
<ellipse cx="255.0" cy="515.0" rx="6.0" ry="6.0" fill="rgb(230,128,0)"/></g></g><g clip-path="url(#cB2)"><g filter="url(#fB2)"><rect x="385" y="391" width="313" height="201" fill="rgb(158,255,0)"/>
<ellipse cx="405.0" cy="425.0" rx="12.0" ry="12.0" fill="rgb(128,0,0)"/>
<ellipse cx="430.0" cy="412.0" rx="14.0" ry="9.0" fill="rgb(140,0,0)"/>
<ellipse cx="455.0" cy="418.0" rx="8.0" ry="8.0" fill="rgb(153,0,0)"/>
<ellipse cx="515.0" cy="420.0" rx="28.0" ry="17.0" fill="rgb(115,0,0)"/>
<ellipse cx="533.0" cy="418.0" rx="10.0" ry="8.0" fill="rgb(76,0,0)"/>
<ellipse cx="498.0" cy="413.0" rx="8.0" ry="6.0" fill="rgb(76,0,0)"/>
<ellipse cx="478.0" cy="432.0" rx="9.0" ry="6.0" fill="rgb(153,0,0)"/>
<ellipse cx="520.0" cy="465.0" rx="22.0" ry="24.0" fill="rgb(107,0,0)"/>
<ellipse cx="515.0" cy="462.0" rx="10.0" ry="13.0" fill="rgb(64,0,0)"/>
<ellipse cx="490.0" cy="480.0" rx="14.0" ry="10.0" fill="rgb(115,0,0)"/>
<ellipse cx="405.0" cy="452.0" rx="10.0" ry="20.0" fill="rgb(89,0,0)"/>
<ellipse cx="560.0" cy="415.0" rx="20.0" ry="12.0" fill="rgb(64,0,0)"/>
<ellipse cx="600.0" cy="410.0" rx="36.0" ry="8.0" fill="rgb(76,0,0)"/>
<ellipse cx="587.0" cy="440.0" rx="8.0" ry="26.0" fill="rgb(76,0,0)"/>
<ellipse cx="620.0" cy="425.0" rx="15.0" ry="14.0" fill="rgb(128,0,0)"/>
<ellipse cx="560.0" cy="440.0" rx="16.0" ry="14.0" fill="rgb(115,0,0)"/>
<ellipse cx="552.0" cy="447.0" rx="8.0" ry="6.0" fill="rgb(76,0,0)"/>
<ellipse cx="550.0" cy="470.0" rx="12.0" ry="8.0" fill="rgb(89,0,0)"/>
<ellipse cx="595.0" cy="472.0" rx="18.0" ry="8.0" fill="rgb(153,0,0)"/>
<ellipse cx="616.0" cy="449.0" rx="9.0" ry="7.0" fill="rgb(89,0,0)"/>
<ellipse cx="645.0" cy="421.0" rx="4.0" ry="3.0" fill="rgb(178,0,0)"/>
<ellipse cx="676.0" cy="442.0" rx="6.0" ry="3.0" fill="rgb(166,0,0)"/>
<ellipse cx="661.0" cy="482.0" rx="12.0" ry="9.0" fill="rgb(89,0,0)"/>
<ellipse cx="630.0" cy="493.0" rx="25.0" ry="4.0" fill="rgb(128,0,0)"/>
<ellipse cx="676.0" cy="410.0" rx="8.0" ry="8.0" fill="rgb(128,0,0)"/>
<path d="M438.0 428.0 L452.0 425.0 L464.0 430.0 L466.0 447.0 L474.0 451.0 L478.0 464.0 L476.0 491.0 L440.0 491.0 L448.0 470.0 L440.0 458.0 Z" fill="rgb(64,0,0)"/>
<path d="M397.0 470.0 L420.0 474.0 L448.0 478.0 L452.0 491.0 L440.0 503.0 L397.0 505.0 Z" fill="rgb(64,0,0)"/>
<path d="M407.0 503.0 L422.0 503.0 L446.0 507.0 L456.0 512.0 L460.0 530.0 L459.0 548.0 L452.0 555.0 L440.0 561.0 L420.0 561.0 L408.0 555.0 L401.0 540.0 L400.0 520.0 Z" fill="rgb(56,0,0)"/>
<ellipse cx="468.0" cy="561.0" rx="9.0" ry="8.0" fill="rgb(76,0,0)"/>
<ellipse cx="480.0" cy="503.0" rx="11.0" ry="12.0" fill="rgb(64,0,0)"/>
<ellipse cx="500.0" cy="509.0" rx="10.0" ry="9.0" fill="rgb(64,0,0)"/>
<ellipse cx="520.0" cy="510.0" rx="25.0" ry="18.0" fill="rgb(140,0,0)"/>
<ellipse cx="535.0" cy="537.0" rx="8.0" ry="10.0" fill="rgb(97,0,0)"/>
<ellipse cx="555.0" cy="520.0" rx="14.0" ry="25.0" fill="rgb(115,0,0)"/>
<path d="M578.0 505.0 L565.0 515.0" fill="none" stroke="rgb(76,0,0)" stroke-width="10.0" stroke-linecap="round" stroke-linejoin="round"/>
<path d="M563.0 540.0 L550.0 560.0 L541.0 572.0" fill="none" stroke="rgb(76,0,0)" stroke-width="11.0" stroke-linecap="round" stroke-linejoin="round"/>
<ellipse cx="558.0" cy="570.0" rx="17.0" ry="12.0" fill="rgb(217,0,0)"/>
<ellipse cx="565.0" cy="578.0" rx="8.0" ry="4.0" fill="rgb(64,0,0)"/>
<ellipse cx="615.0" cy="513.0" rx="10.0" ry="10.0" fill="rgb(89,0,0)"/>
<ellipse cx="645.0" cy="510.0" rx="9.0" ry="12.0" fill="rgb(97,0,0)"/>
<ellipse cx="580.0" cy="527.0" rx="12.0" ry="10.0" fill="rgb(140,0,0)"/>
<ellipse cx="628.0" cy="570.0" rx="8.0" ry="8.0" fill="rgb(115,0,0)"/>
<ellipse cx="672.0" cy="555.0" rx="5.0" ry="10.0" fill="rgb(115,0,0)"/>
<ellipse cx="655.0" cy="491.0" rx="25.0" ry="4.0" fill="rgb(128,0,0)"/>
<ellipse cx="399.0" cy="570.0" rx="5.0" ry="12.0" fill="rgb(76,0,0)"/>
<ellipse cx="448.0" cy="572.0" rx="8.0" ry="9.0" fill="rgb(76,0,0)"/>
<ellipse cx="482.0" cy="569.0" rx="4.0" ry="10.0" fill="rgb(153,0,0)"/>
<ellipse cx="504.0" cy="574.0" rx="7.0" ry="7.0" fill="rgb(128,0,0)"/>
<ellipse cx="415.0" cy="570.0" rx="10.0" ry="8.0" fill="rgb(140,128,0)"/>
<ellipse cx="600.0" cy="545.0" rx="20.0" ry="12.0" fill="rgb(204,140,0)"/>
<ellipse cx="660.0" cy="540.0" rx="15.0" ry="15.0" fill="rgb(217,178,0)"/></g></g><g clip-path="url(#cB3)"><g filter="url(#fB3)"><rect x="675" y="391" width="311" height="201" fill="rgb(38,0,0)"/>
<ellipse cx="700.0" cy="415.0" rx="16.0" ry="12.0" fill="rgb(128,0,0)"/>
<ellipse cx="790.0" cy="425.0" rx="30.0" ry="22.0" fill="rgb(102,0,0)"/>
<ellipse cx="765.0" cy="470.0" rx="10.0" ry="22.0" fill="rgb(140,0,0)"/>
<ellipse cx="800.0" cy="445.0" rx="16.0" ry="10.0" fill="rgb(107,0,0)"/>
<ellipse cx="729.0" cy="474.0" rx="5.0" ry="9.0" fill="rgb(115,0,0)"/>
<ellipse cx="693.0" cy="453.0" rx="6.0" ry="5.0" fill="rgb(97,0,0)"/>
<ellipse cx="725.0" cy="527.0" rx="10.0" ry="6.0" fill="rgb(107,0,0)"/>
<ellipse cx="751.0" cy="545.0" rx="7.0" ry="6.0" fill="rgb(102,0,0)"/>
<ellipse cx="805.0" cy="545.0" rx="25.0" ry="15.0" fill="rgb(102,0,0)"/>
<ellipse cx="720.0" cy="574.0" rx="12.0" ry="7.0" fill="rgb(115,0,0)"/>
<ellipse cx="915.0" cy="419.0" rx="18.0" ry="12.0" fill="rgb(97,0,0)"/>
<ellipse cx="965.0" cy="420.0" rx="10.0" ry="18.0" fill="rgb(128,0,0)"/>
<ellipse cx="845.0" cy="425.0" rx="16.0" ry="14.0" fill="rgb(92,0,0)"/>
<ellipse cx="842.0" cy="467.0" rx="13.0" ry="9.0" fill="rgb(117,0,0)"/>
<ellipse cx="849.0" cy="568.0" rx="16.0" ry="10.0" fill="rgb(117,0,0)"/>
<ellipse cx="912.0" cy="538.0" rx="10.0" ry="9.0" fill="rgb(92,0,0)"/>
<ellipse cx="965.0" cy="523.0" rx="10.0" ry="22.0" fill="rgb(115,0,0)"/>
<ellipse cx="900.0" cy="513.0" rx="6.0" ry="6.0" fill="rgb(122,0,0)"/>
<ellipse cx="935.0" cy="528.0" rx="18.0" ry="9.0" fill="rgb(133,0,0)"/>
<ellipse cx="720.0" cy="500.0" rx="15.0" ry="10.0" fill="rgb(76,0,0)"/>
<ellipse cx="870.0" cy="540.0" rx="20.0" ry="10.0" fill="rgb(97,0,0)"/>
<ellipse cx="940.0" cy="570.0" rx="15.0" ry="8.0" fill="rgb(92,0,0)"/>
<ellipse cx="780.0" cy="480.0" rx="14.0" ry="12.0" fill="rgb(102,0,0)"/>
<ellipse cx="740.0" cy="440.0" rx="8.0" ry="8.0" fill="rgb(82,0,0)"/>
<ellipse cx="830.0" cy="500.0" rx="10.0" ry="8.0" fill="rgb(97,0,0)"/>
<ellipse cx="880.0" cy="440.0" rx="12.0" ry="10.0" fill="rgb(87,0,0)"/>
<ellipse cx="760.0" cy="520.0" rx="10.0" ry="8.0" fill="rgb(76,0,0)"/>
<ellipse cx="700.0" cy="540.0" rx="10.0" ry="10.0" fill="rgb(71,0,0)"/>
<ellipse cx="955.0" cy="500.0" rx="12.0" ry="10.0" fill="rgb(92,0,0)"/>
<ellipse cx="850.0" cy="490.0" rx="10.0" ry="8.0" fill="rgb(97,0,0)"/>
<path d="M687.0 424.6 L697.4 422.3 L712.1 418.9 L724.6 417.8 L729.2 412.1 L731.5 405.3 L740.0 403.0 L756.5 403.0 L759.9 414.4 L770.1 423.5 L771.2 431.4 L765.5 437.1 L758.7 433.7 L751.9 425.7 L745.1 425.7 L731.5 430.3 L726.9 431.4 L724.6 446.2 L724.6 466.6 L716.7 462.1 L713.3 459.8 L712.1 432.5 L708.7 429.1 L703.0 439.4 L692.8 434.8 L687.0 437.1 Z" fill="rgb(219,0,0)"/>
<ellipse cx="696.0" cy="404.0" rx="14.0" ry="4.0" fill="rgb(204,51,0)"/>
<ellipse cx="703.0" cy="409.0" rx="7.0" ry="4.5" fill="rgb(219,255,0)" transform="rotate(-20 703.0 409.0)"/>
<ellipse cx="711.5" cy="444.0" rx="4.0" ry="17.0" fill="rgb(219,255,0)"/>
<ellipse cx="718.0" cy="423.0" rx="6.0" ry="4.0" fill="rgb(219,255,0)"/>
<ellipse cx="736.6" cy="418.3" rx="5.0" ry="6.3" fill="rgb(219,255,0)"/>
<ellipse cx="723.0" cy="404.5" rx="5.0" ry="2.5" fill="rgb(219,230,0)"/>
<ellipse cx="747.3" cy="407.0" rx="2.3" ry="3.0" fill="rgb(219,230,0)"/>
<ellipse cx="771.0" cy="469.0" rx="5.0" ry="7.0" fill="rgb(219,0,0)"/>
<path d="M756.0 440.0 L768.0 460.0 L775.0 490.0" fill="none" stroke="rgb(153,0,0)" stroke-width="5.0" stroke-linecap="round" stroke-linejoin="round"/>
<path d="M836.0 522.0 L860.0 508.0 L885.0 493.0 L910.0 478.0 L935.0 462.0 L955.0 450.0 L974.0 438.0" fill="none" stroke="rgb(107,0,0)" stroke-width="16.0" stroke-linecap="round" stroke-linejoin="round"/>
<path d="M862.0 505.0 L880.0 495.0 L895.0 486.0 L912.0 476.0 L930.0 466.0 L950.0 453.0" fill="none" stroke="rgb(219,0,0)" stroke-width="5.0" stroke-linecap="round" stroke-linejoin="round"/>
<path d="M906.0 432.0 L925.0 448.0 L940.0 458.0" fill="none" stroke="rgb(219,0,0)" stroke-width="9.0" stroke-linecap="round" stroke-linejoin="round"/>
<ellipse cx="943.0" cy="468.0" rx="11.0" ry="8.0" fill="rgb(219,0,0)"/>
<path d="M956.0 403.0 L956.0 430.0 L950.0 445.0 L940.0 452.0" fill="none" stroke="rgb(219,255,0)" stroke-width="7.0" stroke-linecap="round" stroke-linejoin="round"/>
<path d="M936.0 446.0 L960.0 446.0 L974.0 440.0" fill="none" stroke="rgb(219,255,0)" stroke-width="9.0" stroke-linecap="round" stroke-linejoin="round"/>
<ellipse cx="965.0" cy="435.0" rx="8.0" ry="7.0" fill="rgb(219,51,0)"/>
<path d="M955.0 452.0 L930.0 466.0 L905.0 480.0 L882.0 492.0" fill="none" stroke="rgb(219,255,0)" stroke-width="4.5" stroke-linecap="round" stroke-linejoin="round"/>
<ellipse cx="893.0" cy="483.0" rx="8.0" ry="4.0" fill="rgb(219,255,0)" transform="rotate(-20 893.0 483.0)"/>
<ellipse cx="888.0" cy="495.0" rx="6.0" ry="4.0" fill="rgb(219,255,0)"/>
<ellipse cx="970.0" cy="485.0" rx="5.0" ry="6.0" fill="rgb(219,255,0)"/>
<ellipse cx="774.5" cy="557.0" rx="3.5" ry="12.0" fill="rgb(219,0,0)"/>
<ellipse cx="796.0" cy="569.0" rx="5.0" ry="6.0" fill="rgb(219,255,0)"/>
<ellipse cx="820.0" cy="571.0" rx="7.0" ry="7.0" fill="rgb(219,255,0)"/>
<ellipse cx="808.0" cy="566.0" rx="14.0" ry="12.0" fill="rgb(178,76,0)"/>
<ellipse cx="869.0" cy="510.0" rx="5.0" ry="4.0" fill="rgb(219,0,0)"/>
<ellipse cx="866.0" cy="538.0" rx="10.0" ry="4.0" fill="rgb(219,0,0)" transform="rotate(-20 866.0 538.0)"/>
<ellipse cx="900.0" cy="555.0" rx="13.0" ry="9.0" fill="rgb(184,0,0)"/>
<ellipse cx="935.0" cy="527.0" rx="12.0" ry="5.0" fill="rgb(191,0,0)"/>
<ellipse cx="906.0" cy="531.0" rx="2.5" ry="2.5" fill="rgb(219,255,0)"/>
<ellipse cx="958.0" cy="542.0" rx="5.0" ry="3.5" fill="rgb(219,255,0)"/>
<ellipse cx="972.0" cy="499.0" rx="3.0" ry="8.0" fill="rgb(219,255,0)"/>
<ellipse cx="972.0" cy="527.0" rx="3.0" ry="3.0" fill="rgb(219,255,0)"/></g></g><g clip-path="url(#cB4)"><g filter="url(#fB4)"><rect x="962" y="391" width="314" height="201" fill="rgb(36,0,0)"/>
<ellipse cx="1070.0" cy="415.0" rx="18.0" ry="10.0" fill="rgb(92,0,0)"/>
<ellipse cx="1090.0" cy="445.0" rx="16.0" ry="18.0" fill="rgb(87,0,0)"/>
<ellipse cx="1030.0" cy="520.0" rx="25.0" ry="12.0" fill="rgb(82,0,0)"/>
<ellipse cx="1000.0" cy="555.0" rx="15.0" ry="15.0" fill="rgb(107,0,0)"/>
<ellipse cx="1095.0" cy="540.0" rx="10.0" ry="10.0" fill="rgb(107,0,0)"/>
<ellipse cx="1140.0" cy="430.0" rx="18.0" ry="22.0" fill="rgb(76,0,0)"/>
<ellipse cx="1125.0" cy="460.0" rx="10.0" ry="8.0" fill="rgb(115,0,0)"/>
<ellipse cx="1230.0" cy="505.0" rx="20.0" ry="10.0" fill="rgb(107,0,0)"/>
<ellipse cx="1140.0" cy="565.0" rx="20.0" ry="12.0" fill="rgb(107,0,0)"/>
<ellipse cx="1235.0" cy="575.0" rx="15.0" ry="8.0" fill="rgb(107,0,0)"/>
<ellipse cx="1258.0" cy="520.0" rx="8.0" ry="25.0" fill="rgb(115,0,0)"/>
<ellipse cx="1200.0" cy="420.0" rx="15.0" ry="12.0" fill="rgb(87,0,0)"/>
<ellipse cx="1050.0" cy="470.0" rx="15.0" ry="15.0" fill="rgb(82,0,0)"/>
<path d="M974.0 403.0 L1053.0 403.0 L1050.0 418.0 L1040.0 424.0 L1034.0 428.0 L1021.0 428.0 L1019.0 445.0 L1015.0 467.0 L1006.0 467.0 L1000.0 452.0 L993.0 440.0 L974.0 442.0 Z" fill="rgb(219,0,0)"/>
<path d="M973.0 403.0 L1037.0 403.0 L1020.0 410.0 L990.0 414.0 L973.0 416.0 Z" fill="rgb(191,76,0)"/>
<ellipse cx="1001.0" cy="441.0" rx="5.0" ry="21.0" fill="rgb(219,255,0)"/>
<ellipse cx="1025.0" cy="419.0" rx="5.0" ry="7.0" fill="rgb(219,255,0)"/>
<ellipse cx="992.0" cy="408.0" rx="8.0" ry="4.0" fill="rgb(219,255,0)"/>
<ellipse cx="1039.0" cy="409.0" rx="4.0" ry="5.0" fill="rgb(219,255,0)"/>
<path d="M1049.0 403.0 L1055.0 430.0 L1060.0 452.0 L1054.0 475.0 L1042.0 495.0 L1034.0 508.0" fill="none" stroke="rgb(168,0,0)" stroke-width="8.0" stroke-linecap="round" stroke-linejoin="round"/>
<path d="M1052.0 420.0 L1057.0 440.0 L1060.0 455.0 L1056.0 470.0" fill="none" stroke="rgb(219,255,0)" stroke-width="4.0" stroke-linecap="round" stroke-linejoin="round"/>
<path d="M1050.0 491.0 L1055.0 520.0 L1070.0 508.0" fill="none" stroke="rgb(153,76,0)" stroke-width="3.0" stroke-linecap="round" stroke-linejoin="round"/>
<path d="M1110.0 535.0 L1140.0 512.0 L1165.0 490.0 L1195.0 470.0 L1230.0 455.0 L1264.0 440.0" fill="none" stroke="rgb(107,0,0)" stroke-width="16.0" stroke-linecap="round" stroke-linejoin="round"/>
<path d="M1196.0 434.0 L1213.0 443.0 L1227.0 451.0" fill="none" stroke="rgb(219,0,0)" stroke-width="14.0" stroke-linecap="round" stroke-linejoin="round"/>
<path d="M1182.0 478.0 L1210.0 463.0 L1233.0 457.0 L1244.0 456.0 L1244.0 474.0 L1227.0 479.0 L1199.0 484.0 L1182.0 484.0 Z" fill="rgb(219,0,0)"/>
<ellipse cx="1252.0" cy="434.0" rx="9.0" ry="7.0" fill="rgb(219,0,0)"/>
<ellipse cx="1147.0" cy="449.0" rx="6.0" ry="8.0" fill="rgb(219,0,0)"/>
<path d="M1152.0 461.0 L1165.0 470.0 L1175.0 474.0 L1187.0 474.0 L1205.0 467.0 L1222.0 461.0 L1239.0 451.0 L1264.0 441.0" fill="none" stroke="rgb(219,255,0)" stroke-width="5.5" stroke-linecap="round" stroke-linejoin="round"/>
<ellipse cx="1232.0" cy="441.0" rx="7.0" ry="5.0" fill="rgb(219,255,0)"/>
<ellipse cx="1246.0" cy="420.0" rx="4.0" ry="17.0" fill="rgb(219,255,0)"/>
<ellipse cx="1172.0" cy="484.0" rx="6.0" ry="5.0" fill="rgb(219,255,0)"/>
<ellipse cx="1260.0" cy="485.0" rx="4.0" ry="8.0" fill="rgb(219,255,0)"/>
<ellipse cx="1176.0" cy="496.0" rx="6.0" ry="4.0" fill="rgb(219,255,0)"/>
<ellipse cx="1174.0" cy="505.0" rx="14.0" ry="13.0" fill="rgb(184,51,0)"/>
<path d="M1118.0 517.0 L1140.0 512.0 L1166.0 508.0" fill="none" stroke="rgb(204,0,0)" stroke-width="6.0" stroke-linecap="round" stroke-linejoin="round"/>
<path d="M1130.0 539.0 L1150.0 522.0 L1164.0 508.0" fill="none" stroke="rgb(178,0,0)" stroke-width="5.0" stroke-linecap="round" stroke-linejoin="round"/>
<ellipse cx="1158.0" cy="541.0" rx="9.0" ry="6.0" fill="rgb(219,0,0)" transform="rotate(-30 1158.0 541.0)"/>
<ellipse cx="1062.0" cy="561.0" rx="4.0" ry="15.0" fill="rgb(219,0,0)"/>
<ellipse cx="1006.0" cy="572.0" rx="13.0" ry="8.0" fill="rgb(219,76,0)"/>
<path d="M1174.0 551.0 L1190.0 552.0 L1203.0 560.0 L1196.0 567.0 L1195.0 580.0 L1185.0 580.0 L1180.0 565.0 Z" fill="rgb(219,0,0)"/>
<path d="M1204.0 528.0 L1216.0 518.0 L1227.0 524.0 L1264.0 532.0 L1264.0 542.0 L1239.0 544.0 L1222.0 531.0 Z" fill="rgb(219,0,0)"/>
<ellipse cx="1246.0" cy="540.0" rx="6.0" ry="5.0" fill="rgb(219,255,0)"/>
<ellipse cx="1260.0" cy="510.0" rx="4.0" ry="20.0" fill="rgb(219,255,0)"/>
<ellipse cx="1097.0" cy="573.0" rx="4.0" ry="3.0" fill="rgb(219,255,0)"/></g></g>
<g stroke="#000" stroke-width="1" fill="none">
<line x1="107.5" y1="226.5" x2="973" y2="226.5"/>
<line x1="973" y1="225.5" x2="1264" y2="225.5"/>
<line x1="107.5" y1="403" x2="1264" y2="403"/>
<line x1="107.5" y1="579.5" x2="1264" y2="579.5"/>
<line x1="1263.5" y1="403" x2="1263.5" y2="580"/>
<line x1="107.5" y1="226" x2="107.5" y2="580" stroke="#aaa"/>
<line x1="396.5" y1="226" x2="396.5" y2="580"/>
<line x1="686.5" y1="226" x2="686.5" y2="580"/>
<line x1="973.5" y1="226" x2="973.5" y2="580"/>
</g>
<text transform="translate(108.1,254.7) scale(0.95,1)" font-size="31" font-weight="bold" fill="#ffff00">A</text>
<text transform="translate(108.2,431.9) scale(0.99,1)" font-size="31" font-weight="bold" fill="#ffff00">B</text>
<g font-size="27" fill="#000">
<text x="109" y="368.9">0</text><text x="189" y="368.9">1</text>
<rect x="115.5" y="378.5" width="80" height="15" fill="none" stroke="#000" stroke-width="1"/>
<rect x="115" y="378" width="40.5" height="16" fill="#000"/>
<text x="200" y="392.4">km</text>
<text x="109" y="548.9">0</text><text x="184.5" y="548.9">3</text>
<rect x="115.5" y="559" width="76" height="14.5" fill="none" stroke="#000" stroke-width="1"/>
<rect x="115" y="558.5" width="38.5" height="15.5" fill="#000"/>
<text x="196" y="572.4">km</text>
</g>
<g font-size="31" text-anchor="middle" fill="#000">
<text x="44.3" y="306.6">Low</text>
<text x="48.7" y="340.9">severity</text>
<text x="44.2" y="482.8">High</text>
<text x="48.7" y="518">severity</text>
</g>
<text x="232" y="629.7" font-size="31" fill="#000">NDNBF</text>
<rect x="234" y="645.5" width="56.5" height="32" fill="#F5894B" stroke="#000" stroke-width="1.1"/>
<text x="298" y="673.3" font-size="31" fill="#000">-1.00 - 0.50</text>
<rect x="487" y="645.5" width="57" height="32" fill="#DDF08A" stroke="#000" stroke-width="1.1"/>
<text x="550.5" y="673.3" font-size="31" fill="#000">0.00 - 0.25</text>
<rect x="234" y="693" width="56.5" height="32" fill="#F9AE87" stroke="#000" stroke-width="1.1"/>
<text x="298" y="720.8" font-size="31" fill="#000">-0.50 - 0.25</text>
<rect x="487" y="693" width="57" height="32" fill="#8ACB88" stroke="#000" stroke-width="1.1"/>
<text x="550.5" y="720.8" font-size="31" fill="#000">0.25 - 0.50</text>
<rect x="234" y="740.5" width="56.5" height="32" fill="#FDE2D6" stroke="#000" stroke-width="1.1"/>
<text x="298" y="768.3" font-size="31" fill="#000">-0.25 - 0.00</text>
<rect x="487" y="740.5" width="57" height="32" fill="#5EBD61" stroke="#000" stroke-width="1.1"/>
<text x="550.5" y="768.3" font-size="31" fill="#000">0.50 - 1.00</text>
<rect x="773.5" y="645.5" width="57" height="32" fill="#2F93D2" stroke="#000" stroke-width="1.1"/>
<text x="839" y="672.6" font-size="31" fill="#000">Shrub dominant</text>
<text x="804" y="700.2" font-size="20" text-anchor="middle" fill="#000">N</text>
<path d="M803.8 711 L824.6 770.4 L803.8 758.1 L783.7 770.4 Z" fill="#000"/>
</svg>
</body></html>
